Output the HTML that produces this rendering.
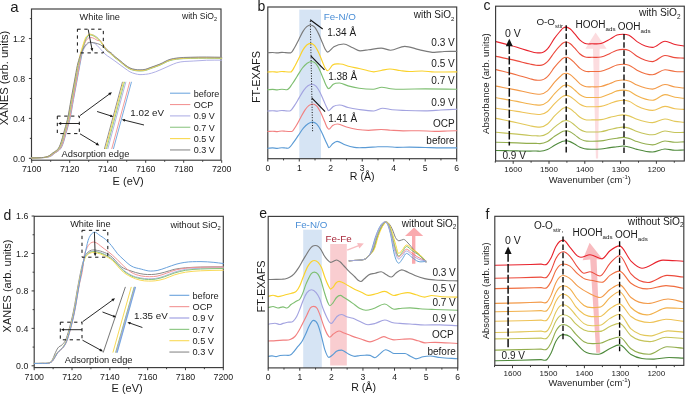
<!DOCTYPE html>
<html><head><meta charset="utf-8"><style>
html,body{margin:0;padding:0;background:#fff;}
svg{display:block;font-family:"Liberation Sans",sans-serif;will-change:transform;}
</style></head><body>
<svg width="685" height="394" viewBox="0 0 685 394">
<rect width="685" height="394" fill="#fff"/>
<rect x="31.5" y="9" width="189.5" height="151.2" fill="none" stroke="#3a3a3a" stroke-width="1.15"/>
<line x1="31.7" y1="160.2" x2="31.7" y2="162.8" stroke="#3a3a3a" stroke-width="1" />
<line x1="50.7" y1="160.2" x2="50.7" y2="161.8" stroke="#3a3a3a" stroke-width="1" />
<line x1="69.7" y1="160.2" x2="69.7" y2="162.8" stroke="#3a3a3a" stroke-width="1" />
<line x1="88.7" y1="160.2" x2="88.7" y2="161.8" stroke="#3a3a3a" stroke-width="1" />
<line x1="107.7" y1="160.2" x2="107.7" y2="162.8" stroke="#3a3a3a" stroke-width="1" />
<line x1="126.7" y1="160.2" x2="126.7" y2="161.8" stroke="#3a3a3a" stroke-width="1" />
<line x1="145.7" y1="160.2" x2="145.7" y2="162.8" stroke="#3a3a3a" stroke-width="1" />
<line x1="164.7" y1="160.2" x2="164.7" y2="161.8" stroke="#3a3a3a" stroke-width="1" />
<line x1="183.7" y1="160.2" x2="183.7" y2="162.8" stroke="#3a3a3a" stroke-width="1" />
<line x1="202.7" y1="160.2" x2="202.7" y2="161.8" stroke="#3a3a3a" stroke-width="1" />
<line x1="221.7" y1="160.2" x2="221.7" y2="162.8" stroke="#3a3a3a" stroke-width="1" />
<line x1="31.5" y1="158.3" x2="28.9" y2="158.3" stroke="#3a3a3a" stroke-width="1" />
<line x1="31.5" y1="138.35" x2="29.9" y2="138.35" stroke="#3a3a3a" stroke-width="1" />
<line x1="31.5" y1="118.4" x2="28.9" y2="118.4" stroke="#3a3a3a" stroke-width="1" />
<line x1="31.5" y1="98.45" x2="29.9" y2="98.45" stroke="#3a3a3a" stroke-width="1" />
<line x1="31.5" y1="78.5" x2="28.9" y2="78.5" stroke="#3a3a3a" stroke-width="1" />
<line x1="31.5" y1="58.55" x2="29.9" y2="58.55" stroke="#3a3a3a" stroke-width="1" />
<line x1="31.5" y1="38.6" x2="28.9" y2="38.6" stroke="#3a3a3a" stroke-width="1" />
<line x1="31.5" y1="18.65" x2="29.9" y2="18.65" stroke="#3a3a3a" stroke-width="1" />
<text x="31.7" y="172.3" font-size="8.8" text-anchor="middle" fill="#1a1a1a" >7100</text>
<text x="69.7" y="172.3" font-size="8.8" text-anchor="middle" fill="#1a1a1a" >7120</text>
<text x="107.7" y="172.3" font-size="8.8" text-anchor="middle" fill="#1a1a1a" >7140</text>
<text x="145.7" y="172.3" font-size="8.8" text-anchor="middle" fill="#1a1a1a" >7160</text>
<text x="183.7" y="172.3" font-size="8.8" text-anchor="middle" fill="#1a1a1a" >7180</text>
<text x="221.7" y="172.3" font-size="8.8" text-anchor="middle" fill="#1a1a1a" >7200</text>
<text x="25.2" y="161.5" font-size="8.8" text-anchor="end" fill="#1a1a1a" >0.0</text>
<text x="25.2" y="121.6" font-size="8.8" text-anchor="end" fill="#1a1a1a" >0.4</text>
<text x="25.2" y="81.7" font-size="8.8" text-anchor="end" fill="#1a1a1a" >0.8</text>
<text x="25.2" y="41.8" font-size="8.8" text-anchor="end" fill="#1a1a1a" >1.2</text>
<text x="128.2" y="185" font-size="11" text-anchor="middle" fill="#1a1a1a" >E (eV)</text>
<text x="0" y="0" font-size="11.2" text-anchor="middle" fill="#1a1a1a" transform="translate(8.4 78) rotate(-90)">XANES (arb. units)</text>
<text x="10.3" y="11.8" font-size="15" text-anchor="start" fill="#1a1a1a" >a</text>
<path d="M31.7 157.9C33.92 157.87 36.13 157.87 38.35 157.8C39.93 157.75 41.52 157.75 43.1 157.6C44.37 157.49 45.63 157.42 46.9 157.1C48.17 156.79 49.43 156.44 50.7 155.71C51.97 154.97 53.23 153.63 54.5 152.71C55.7 151.84 56.91 151.57 58.11 150.32C59 149.4 59.88 148.64 60.77 146.83C61.47 145.4 62.16 143.5 62.86 141.34C63.56 139.18 64.25 136.36 64.95 133.86C65.65 131.37 66.34 128.91 67.04 126.38C67.67 124.08 68.31 122.13 68.94 119.4C70.14 114.21 71.35 106.01 72.55 99.45C73.75 92.88 74.96 86.51 76.16 80C77.05 75.19 77.93 69.79 78.82 65.53C79.52 62.19 80.21 59.04 80.91 56.56C81.8 53.4 82.68 51.47 83.57 49.57C84.58 47.41 85.6 45.93 86.61 44.78C87.81 43.42 89.02 42.59 90.22 42.59C91.61 42.59 93.01 42.61 94.4 43.29C96.3 44.22 98.2 46.63 100.1 48.58C101.75 50.26 103.39 52.56 105.04 54.06C106.69 55.56 108.33 56.39 109.98 57.55C111.63 58.72 113.27 59.85 114.92 61.04C116.63 62.28 118.34 63.58 120.05 64.83C121.7 66.04 123.34 67.26 124.99 68.43C126.64 69.59 128.28 70.94 129.93 71.82C131.64 72.72 133.35 73.24 135.06 73.71C136.71 74.16 138.35 74.61 140 74.61C141.9 74.61 143.8 74.54 145.7 74.31C147.6 74.08 149.5 73.72 151.4 73.21C154.25 72.46 157.1 71.18 159.95 70.02C163.31 68.66 166.66 66.95 170.02 65.53C172.24 64.6 174.45 63.55 176.67 62.84C182.18 61.08 187.69 61.49 193.2 61.04C197.63 60.68 202.07 60.4 206.5 60.25C211.57 60.07 216.63 60.18 221.7 60.15" fill="none" stroke="#b0b0e6" stroke-width="1" stroke-linejoin="round" stroke-linecap="round" />
<path d="M31.7 157.9C34.23 157.87 36.77 157.88 39.3 157.8C40.88 157.75 42.47 157.75 44.05 157.6C45.32 157.49 46.58 157.42 47.85 157.1C49.12 156.79 50.38 156.44 51.65 155.71C52.92 154.97 54.18 153.63 55.45 152.71C56.65 151.84 57.86 151.57 59.06 150.32C59.95 149.4 60.83 148.64 61.72 146.83C62.42 145.4 63.11 143.5 63.81 141.34C64.51 139.18 65.2 136.35 65.9 133.86C66.6 131.37 67.29 128.91 67.99 126.38C68.62 124.08 69.26 122.13 69.89 119.4C71.09 114.21 72.3 106.01 73.5 99.45C74.7 92.88 75.91 86.51 77.11 80C78 75.19 78.88 70.15 79.77 65.53C81.16 58.28 82.56 50.27 83.95 45.28C84.77 42.34 85.6 39.95 86.42 38.3C87.05 37.03 87.69 36.34 88.32 35.71C89.08 34.94 89.84 34.41 90.6 34.41C91.87 34.41 93.13 34.94 94.4 35.61C95.67 36.27 96.93 37.2 98.2 38.4C98.83 39 99.47 39.66 100.1 40.4C101.75 42.3 103.39 45.47 105.04 47.48C106.69 49.49 108.33 50.89 109.98 52.47C111.63 54.04 113.27 55.56 114.92 56.95C116.63 58.4 118.34 59.55 120.05 60.94C121.7 62.28 123.34 63.9 124.99 65.13C126.64 66.36 128.28 67.55 129.93 68.33C131.64 69.13 133.35 69.51 135.06 69.82C136.71 70.13 138.35 70.22 140 70.22C141.9 70.22 143.8 70.1 145.7 69.62C147.16 69.25 148.61 68.56 150.07 68.03C153.36 66.83 156.66 65.8 159.95 64.44C163.31 63.05 166.66 60.76 170.02 59.75C172.24 59.08 174.45 58.78 176.67 58.45C181.23 57.76 185.79 57.82 190.35 57.65C195.73 57.45 201.12 57.45 206.5 57.45C211.57 57.45 216.63 57.59 221.7 57.65" fill="none" stroke="#72a8df" stroke-width="1" stroke-linejoin="round" stroke-linecap="round" />
<path d="M31.7 157.9C34.11 157.87 36.51 157.88 38.92 157.8C40.5 157.75 42.09 157.75 43.67 157.6C44.94 157.49 46.2 157.42 47.47 157.1C48.74 156.79 50 156.44 51.27 155.71C52.54 154.97 53.8 153.63 55.07 152.71C56.27 151.84 57.48 151.57 58.68 150.32C59.57 149.4 60.45 148.64 61.34 146.83C62.04 145.4 62.73 143.5 63.43 141.34C64.13 139.18 64.82 136.35 65.52 133.86C66.22 131.37 66.91 128.91 67.61 126.38C68.24 124.08 68.88 122.13 69.51 119.4C70.71 114.21 71.92 106.01 73.12 99.45C74.32 92.88 75.53 86.51 76.73 80C77.62 75.19 78.5 70.5 79.39 65.53C80.09 61.63 80.78 56.83 81.48 53.56C82.37 49.4 83.25 46.91 84.14 44.59C84.9 42.6 85.66 41.19 86.42 40.1C87.12 39.09 87.81 38.55 88.51 38.1C89.21 37.65 89.9 37.4 90.6 37.4C91.99 37.4 93.39 38.13 94.78 38.8C95.79 39.29 96.81 40.31 97.82 40.6C98.58 40.81 99.34 40.33 100.1 40.69C101.75 41.49 103.39 45.77 105.04 47.78C106.69 49.79 108.33 51.19 109.98 52.76C111.63 54.34 113.27 55.86 114.92 57.25C116.63 58.7 118.34 59.85 120.05 61.24C121.7 62.58 123.34 64.2 124.99 65.43C126.64 66.66 128.28 67.85 129.93 68.62C131.64 69.43 133.35 69.81 135.06 70.12C136.71 70.42 138.35 70.52 140 70.52C141.9 70.52 143.8 70.4 145.7 69.92C147.16 69.55 148.61 68.86 150.07 68.33C153.36 67.12 156.66 66.1 159.95 64.73C163.31 63.34 166.66 61.06 170.02 60.05C172.24 59.38 174.45 59.08 176.67 58.75C181.23 58.06 185.79 58.12 190.35 57.95C195.73 57.75 201.12 57.75 206.5 57.75C211.57 57.75 216.63 57.89 221.7 57.95" fill="none" stroke="#f39696" stroke-width="1" stroke-linejoin="round" stroke-linecap="round" />
<path d="M31.7 157.9C33.73 157.87 35.75 157.86 37.78 157.8C39.36 157.75 40.95 157.75 42.53 157.6C43.8 157.49 45.06 157.42 46.33 157.1C47.6 156.79 48.86 156.44 50.13 155.71C51.4 154.97 52.66 153.63 53.93 152.71C55.13 151.84 56.34 151.57 57.54 150.32C58.43 149.4 59.31 148.64 60.2 146.83C60.9 145.4 61.59 143.5 62.29 141.34C62.99 139.18 63.68 136.36 64.38 133.86C65.08 131.37 65.77 128.91 66.47 126.38C67.1 124.08 67.74 122.13 68.37 119.4C69.57 114.21 70.78 106.01 71.98 99.45C73.18 92.88 74.39 86.51 75.59 80C76.48 75.19 77.36 69.87 78.25 65.53C79.96 57.16 81.67 51.18 83.38 45.78C84.2 43.18 85.03 40.45 85.85 38.8C86.48 37.53 87.12 36.84 87.75 36.21C88.51 35.44 89.27 34.91 90.03 34.91C91.3 34.91 92.56 35.44 93.83 36.11C95.1 36.77 96.36 37.82 97.63 38.9C98.45 39.6 99.28 40.29 100.1 41.19C101.75 43 103.39 46.26 105.04 48.28C106.69 50.29 108.33 51.68 109.98 53.26C111.63 54.84 113.27 56.36 114.92 57.75C116.63 59.2 118.34 60.35 120.05 61.74C121.7 63.08 123.34 64.7 124.99 65.93C126.64 67.16 128.28 68.35 129.93 69.12C131.64 69.93 133.35 70.3 135.06 70.62C136.71 70.92 138.35 71.02 140 71.02C141.9 71.02 143.8 70.9 145.7 70.42C147.16 70.05 148.61 69.36 150.07 68.82C153.36 67.62 156.66 66.6 159.95 65.23C163.31 63.84 166.66 61.56 170.02 60.55C172.24 59.87 174.45 59.58 176.67 59.25C181.23 58.56 185.79 58.62 190.35 58.45C195.73 58.25 201.12 58.25 206.5 58.25C211.57 58.25 216.63 58.38 221.7 58.45" fill="none" stroke="#8fc785" stroke-width="1" stroke-linejoin="round" stroke-linecap="round" />
<path d="M31.7 157.9C33.54 157.87 35.37 157.86 37.21 157.8C38.79 157.75 40.38 157.75 41.96 157.6C43.23 157.49 44.49 157.42 45.76 157.1C47.03 156.79 48.29 156.44 49.56 155.71C50.83 154.97 52.09 153.63 53.36 152.71C54.56 151.84 55.77 151.57 56.97 150.32C57.86 149.4 58.74 148.64 59.63 146.83C60.33 145.4 61.02 143.5 61.72 141.34C62.42 139.18 63.11 136.36 63.81 133.86C64.51 131.37 65.2 128.91 65.9 126.38C66.53 124.08 67.17 122.13 67.8 119.4C69 114.21 70.21 106.01 71.41 99.45C72.61 92.88 73.82 86.51 75.02 80C75.91 75.19 76.79 69.89 77.68 65.53C79.45 56.82 81.23 50.58 83 44.98C83.82 42.39 84.65 39.65 85.47 38C86.1 36.73 86.74 36.04 87.37 35.41C88.13 34.65 88.89 34.11 89.65 34.11C90.92 34.11 92.18 34.64 93.45 35.31C94.72 35.97 95.98 37.04 97.25 38.1C98.2 38.89 99.15 39.65 100.1 40.69C101.75 42.51 103.39 45.77 105.04 47.78C106.69 49.79 108.33 51.19 109.98 52.76C111.63 54.34 113.27 55.86 114.92 57.25C116.63 58.7 118.34 59.85 120.05 61.24C121.7 62.58 123.34 64.2 124.99 65.43C126.64 66.66 128.28 67.85 129.93 68.62C131.64 69.43 133.35 69.81 135.06 70.12C136.71 70.42 138.35 70.52 140 70.52C141.9 70.52 143.8 70.4 145.7 69.92C147.16 69.55 148.61 68.86 150.07 68.33C153.36 67.12 156.66 66.1 159.95 64.73C163.31 63.34 166.66 61.06 170.02 60.05C172.24 59.38 174.45 59.08 176.67 58.75C181.23 58.06 185.79 58.12 190.35 57.95C195.73 57.75 201.12 57.75 206.5 57.75C211.57 57.75 216.63 57.89 221.7 57.95" fill="none" stroke="#f9d94e" stroke-width="1" stroke-linejoin="round" stroke-linecap="round" />
<path d="M31.7 157.9C33.41 157.87 35.12 157.85 36.83 157.8C38.41 157.75 40 157.75 41.58 157.6C42.85 157.49 44.11 157.42 45.38 157.1C46.65 156.79 47.91 156.44 49.18 155.71C50.45 154.97 51.71 153.63 52.98 152.71C54.18 151.84 55.39 151.57 56.59 150.32C57.48 149.4 58.36 148.64 59.25 146.83C59.95 145.4 60.64 143.5 61.34 141.34C62.04 139.18 62.73 136.36 63.43 133.86C64.13 131.37 64.82 128.91 65.52 126.38C66.15 124.08 66.79 122.13 67.42 119.4C68.62 114.21 69.83 106.01 71.03 99.45C72.23 92.88 73.44 86.51 74.64 80C75.53 75.19 76.41 69.44 77.3 65.53C78.19 61.63 79.07 59.15 79.96 56.56C80.91 53.77 81.86 51.5 82.81 49.57C83.82 47.52 84.84 45.98 85.85 44.78C86.99 43.44 88.13 42.29 89.27 42.29C90.66 42.29 92.06 42.35 93.45 42.59C94.72 42.81 95.98 43.18 97.25 43.59C98.33 43.93 99.4 44.18 100.48 44.78C101.62 45.42 102.76 46.33 103.9 47.38C105.17 48.55 106.43 50.87 107.7 51.57C108.46 51.99 109.22 51.73 109.98 52.07C111.63 52.79 113.27 55.16 114.92 56.56C116.63 58 118.34 59.15 120.05 60.55C121.7 61.88 123.34 63.5 124.99 64.73C126.64 65.96 128.28 67.15 129.93 67.93C131.64 68.73 133.35 69.11 135.06 69.42C136.71 69.73 138.35 69.82 140 69.82C141.9 69.82 143.8 69.7 145.7 69.22C147.16 68.86 148.61 68.16 150.07 67.63C153.36 66.43 156.66 65.4 159.95 64.04C163.31 62.65 166.66 60.36 170.02 59.35C172.24 58.68 174.45 58.38 176.67 58.05C181.23 57.37 185.79 57.42 190.35 57.25C195.73 57.05 201.12 57.05 206.5 57.05C211.57 57.05 216.63 57.19 221.7 57.25" fill="none" stroke="#8a8a8a" stroke-width="1" stroke-linejoin="round" stroke-linecap="round" />
<text x="79.6" y="20.2" font-size="9.2" text-anchor="start" fill="#1a1a1a" >White line</text>
<text x="182" y="19.3" font-size="8.6" fill="#1a1a1a">with SiO<tspan font-size="5.6" dy="2">2</tspan></text>
<rect x="77.4" y="29.2" width="25.9" height="23.7" fill="none" stroke="#111" stroke-width="1" stroke-dasharray="3.3 3.6"/>
<line x1="88.2" y1="29.4" x2="91.9" y2="48.85" stroke="#111" stroke-width="0.9" />
<polygon points="92.4,51.5 90.43,48.62 93.18,48.09" fill="#111"/>
<rect x="57.3" y="116.1" width="22" height="17.5" fill="none" stroke="#111" stroke-width="1" stroke-dasharray="3.3 3.6"/>
<line x1="79.3" y1="123.5" x2="60.7" y2="123.5" stroke="#111" stroke-width="0.9" />
<polygon points="58.2,123.5 61.2,122.1 61.2,124.9" fill="#111"/>
<line x1="80" y1="115.6" x2="109.56" y2="93.92" stroke="#111" stroke-width="0.9" />
<polygon points="111.9,92.2 110.05,95.42 108.27,93" fill="#111"/>
<line x1="80" y1="133.8" x2="96.81" y2="143.91" stroke="#111" stroke-width="0.9" />
<polygon points="99.3,145.4 95.61,144.93 97.16,142.36" fill="#111"/>
<line x1="104.4" y1="149" x2="122.5" y2="81.8" stroke="#8a8a8a" stroke-width="0.95" />
<line x1="105.4" y1="149" x2="123.5" y2="81.8" stroke="#f9d94e" stroke-width="0.95" />
<line x1="106.5" y1="149" x2="124.6" y2="81.8" stroke="#8fc785" stroke-width="0.95" />
<line x1="107.8" y1="149" x2="125.9" y2="81.8" stroke="#b0b0e6" stroke-width="0.95" />
<line x1="111.7" y1="149" x2="129.8" y2="81.8" stroke="#f39696" stroke-width="0.95" />
<line x1="113.4" y1="149" x2="131.5" y2="81.8" stroke="#72a8df" stroke-width="0.95" />
<line x1="97.1" y1="111.5" x2="110.83" y2="115.88" stroke="#111" stroke-width="0.9" />
<polygon points="113.4,116.7 109.93,117.06 110.78,114.39" fill="#111"/>
<line x1="144" y1="125" x2="124.42" y2="120.15" stroke="#111" stroke-width="0.9" />
<polygon points="121.8,119.5 125.24,118.91 124.57,121.63" fill="#111"/>
<text x="130.3" y="115.6" font-size="9.8" text-anchor="start" fill="#1a1a1a" >1.02 eV</text>
<text x="61.6" y="156.7" font-size="9.3" text-anchor="start" fill="#1a1a1a" >Adsorption edge</text>
<line x1="170" y1="93.2" x2="190.3" y2="93.2" stroke="#72a8df" stroke-width="1.1" />
<text x="193.7" y="96.5" font-size="9" text-anchor="start" fill="#1a1a1a" >before</text>
<line x1="170" y1="104.55" x2="190.3" y2="104.55" stroke="#f39696" stroke-width="1.1" />
<text x="193.7" y="107.85" font-size="9" text-anchor="start" fill="#1a1a1a" >OCP</text>
<line x1="170" y1="115.9" x2="190.3" y2="115.9" stroke="#b0b0e6" stroke-width="1.1" />
<text x="193.7" y="119.2" font-size="9" text-anchor="start" fill="#1a1a1a" >0.9 V</text>
<line x1="170" y1="127.25" x2="190.3" y2="127.25" stroke="#8fc785" stroke-width="1.1" />
<text x="193.7" y="130.55" font-size="9" text-anchor="start" fill="#1a1a1a" >0.7 V</text>
<line x1="170" y1="138.6" x2="190.3" y2="138.6" stroke="#f9d94e" stroke-width="1.1" />
<text x="193.7" y="141.9" font-size="9" text-anchor="start" fill="#1a1a1a" >0.5 V</text>
<line x1="170" y1="149.95" x2="190.3" y2="149.95" stroke="#8a8a8a" stroke-width="1.1" />
<text x="193.7" y="153.25" font-size="9" text-anchor="start" fill="#1a1a1a" >0.3 V</text>
<rect x="299.28" y="9.6" width="21.72" height="149.1" fill="#d6e4f4"/>
<rect x="267.8" y="7" width="188.9" height="151.7" fill="none" stroke="#3a3a3a" stroke-width="1.15"/>
<line x1="267.8" y1="158.7" x2="267.8" y2="161.5" stroke="#3a3a3a" stroke-width="1" />
<line x1="283.54" y1="158.7" x2="283.54" y2="160.4" stroke="#3a3a3a" stroke-width="1" />
<line x1="299.28" y1="158.7" x2="299.28" y2="161.5" stroke="#3a3a3a" stroke-width="1" />
<line x1="315.02" y1="158.7" x2="315.02" y2="160.4" stroke="#3a3a3a" stroke-width="1" />
<line x1="330.76" y1="158.7" x2="330.76" y2="161.5" stroke="#3a3a3a" stroke-width="1" />
<line x1="346.5" y1="158.7" x2="346.5" y2="160.4" stroke="#3a3a3a" stroke-width="1" />
<line x1="362.24" y1="158.7" x2="362.24" y2="161.5" stroke="#3a3a3a" stroke-width="1" />
<line x1="377.98" y1="158.7" x2="377.98" y2="160.4" stroke="#3a3a3a" stroke-width="1" />
<line x1="393.72" y1="158.7" x2="393.72" y2="161.5" stroke="#3a3a3a" stroke-width="1" />
<line x1="409.46" y1="158.7" x2="409.46" y2="160.4" stroke="#3a3a3a" stroke-width="1" />
<line x1="425.2" y1="158.7" x2="425.2" y2="161.5" stroke="#3a3a3a" stroke-width="1" />
<line x1="440.94" y1="158.7" x2="440.94" y2="160.4" stroke="#3a3a3a" stroke-width="1" />
<line x1="456.68" y1="158.7" x2="456.68" y2="161.5" stroke="#3a3a3a" stroke-width="1" />
<text x="267.8" y="170.9" font-size="8.6" text-anchor="middle" fill="#1a1a1a" >0</text>
<text x="299.28" y="170.9" font-size="8.6" text-anchor="middle" fill="#1a1a1a" >1</text>
<text x="330.76" y="170.9" font-size="8.6" text-anchor="middle" fill="#1a1a1a" >2</text>
<text x="362.24" y="170.9" font-size="8.6" text-anchor="middle" fill="#1a1a1a" >3</text>
<text x="393.72" y="170.9" font-size="8.6" text-anchor="middle" fill="#1a1a1a" >4</text>
<text x="425.2" y="170.9" font-size="8.6" text-anchor="middle" fill="#1a1a1a" >5</text>
<text x="456.68" y="170.9" font-size="8.6" text-anchor="middle" fill="#1a1a1a" >6</text>
<text x="362.2" y="180" font-size="10.6" text-anchor="middle" fill="#1a1a1a" >R (&#197;)</text>
<text x="0" y="0" font-size="10.9" text-anchor="middle" fill="#1a1a1a" transform="translate(260.2 77.1) rotate(-90)">FT-EXAFS</text>
<text x="257.4" y="10.7" font-size="14" text-anchor="start" fill="#1a1a1a" >b</text>
<path d="M267.8 148.2C269.37 148.1 270.95 147.9 272.52 147.9C274.1 147.9 275.67 148.3 277.24 148.3C278.82 148.3 280.39 147.7 281.97 147.7C283.12 147.7 284.27 147.9 285.43 148C286.27 148.07 287.11 148.2 287.95 148.2C289.73 148.2 291.51 144.94 293.3 142.72C294.98 140.63 296.66 137.85 298.34 135.41C300.01 132.97 301.69 130.1 303.37 128.1C304.95 126.23 306.52 124.67 308.09 123.67C309.56 122.73 311.03 122.1 312.5 122.1C313.87 122.1 315.23 122.58 316.59 123.93C317.96 125.28 319.32 127.65 320.69 130.19C322 132.64 323.31 135.97 324.62 138.8C325.51 140.73 326.41 142.71 327.3 144.55C327.82 145.62 328.35 147.7 328.87 147.7C330.13 147.7 331.39 144.73 332.65 143.7C334.12 142.49 335.59 141.3 337.06 141.3C339.68 141.3 342.3 143.74 344.93 144.7C348.07 145.85 351.22 146.89 354.37 147.4C358.04 148 361.72 147.6 365.39 147.6C369.59 147.6 373.78 146.94 377.98 146.8C381.13 146.7 384.28 146.7 387.42 146.7C390.57 146.7 393.72 147.4 396.87 147.4C401.07 147.4 405.26 147.1 409.46 147.1C414.71 147.1 419.95 147.37 425.2 147.5C430.45 147.63 435.69 147.9 440.94 147.9C446.19 147.9 451.43 147.9 456.68 147.9" fill="none" stroke="#5b9bd5" stroke-width="1.15" stroke-linejoin="round" stroke-linecap="round" />
<path d="M267.8 131.5C269.37 131.4 270.95 131.2 272.52 131.2C274.1 131.2 275.67 131.6 277.24 131.6C278.82 131.6 280.39 131 281.97 131C283.12 131 284.27 131.22 285.43 131.3C287.5 131.44 289.56 131.5 291.63 131.5C293.15 131.5 294.66 128.06 296.18 125.72C297.61 123.52 299.03 120.59 300.46 118.03C301.89 115.46 303.31 112.42 304.74 110.33C306.08 108.36 307.42 106.71 308.76 105.65C310 104.66 311.25 104 312.5 104C313.87 104 315.23 104.5 316.59 105.92C317.96 107.35 319.32 109.84 320.69 112.53C322 115.1 323.31 118.61 324.62 121.6C325.51 123.63 326.41 126.35 327.3 127.65C327.82 128.41 328.35 129.2 328.87 129.2C330.13 129.2 331.39 126.37 332.65 125.5C334.33 124.35 336.01 124 337.69 124C340.62 124 343.56 126.15 346.5 127C350.17 128.06 353.85 128.95 357.52 129.5C361.19 130.05 364.86 130.3 368.54 130.3C372.73 130.3 376.93 129.5 381.13 129.5C384.28 129.5 387.42 129.99 390.57 130.2C394.77 130.48 398.97 130.9 403.16 130.9C408.41 130.9 413.66 130.7 418.9 130.7C424.15 130.7 429.4 131.3 434.64 131.3C438.84 131.3 443.04 131.12 447.24 131C450.38 130.91 453.53 130.8 456.68 130.7" fill="none" stroke="#f28080" stroke-width="1.15" stroke-linejoin="round" stroke-linecap="round" />
<path d="M267.8 111C269.37 110.9 270.95 110.7 272.52 110.7C274.1 110.7 275.67 111.1 277.24 111.1C278.82 111.1 280.39 110.5 281.97 110.5C283.12 110.5 284.27 110.72 285.43 110.8C286.88 110.9 288.32 111 289.77 111C291.38 111 292.98 107.65 294.59 105.37C296.1 103.23 297.61 100.37 299.12 97.87C300.63 95.37 302.14 92.41 303.66 90.36C305.07 88.45 306.49 86.84 307.91 85.81C309.23 84.85 310.55 84.2 311.87 84.2C313.24 84.2 314.6 84.69 315.96 86.08C317.33 87.46 318.69 89.89 320.06 92.51C321.37 95.02 322.68 98.44 323.99 101.35C324.88 103.33 325.78 105.48 326.67 107.25C327.3 108.5 327.93 110.7 328.56 110.7C330.13 110.7 331.7 107.46 333.28 106.5C335.38 105.22 337.48 105 339.57 105C342.41 105 345.24 106.81 348.07 107.5C351.75 108.4 355.42 108.96 359.09 109.5C364.02 110.23 368.96 111 373.89 111C376.83 111 379.76 108.2 382.7 108.2C385.85 108.2 389 109.42 392.15 109.8C396.87 110.37 401.59 110.33 406.31 110.5C412.61 110.72 418.9 110.8 425.2 110.8C430.45 110.8 435.69 110.27 440.94 110C446.19 109.73 451.43 109.47 456.68 109.2" fill="none" stroke="#a3a3e0" stroke-width="1.15" stroke-linejoin="round" stroke-linecap="round" />
<path d="M267.8 89.7C269.37 89.6 270.95 89.4 272.52 89.4C274.1 89.4 275.67 89.8 277.24 89.8C278.82 89.8 280.39 89.2 281.97 89.2C283.64 89.2 285.32 89.7 287 89.7C288.79 89.7 290.57 86.18 292.35 83.78C294.03 81.52 295.71 78.51 297.39 75.88C299.07 73.25 300.75 70.14 302.43 67.99C304 65.97 305.58 64.28 307.15 63.19C308.62 62.18 310.09 61.5 311.56 61.5C312.92 61.5 314.29 62.02 315.65 63.47C317.01 64.93 318.38 67.49 319.74 70.24C321.05 72.89 322.37 76.48 323.68 79.55C324.57 81.63 325.46 84.19 326.35 85.75C327.09 87.04 327.82 88.6 328.56 88.6C330.13 88.6 331.7 85.17 333.28 84.2C335.38 82.91 337.48 83 339.57 83C342.41 83 345.24 85.1 348.07 85.9C351.75 86.94 355.42 87.66 359.09 88.2C363.81 88.9 368.54 89.2 373.26 89.2C376.09 89.2 378.92 87.2 381.76 87.2C384.7 87.2 387.63 88.36 390.57 88.7C394.77 89.19 398.97 89.2 403.16 89.2C410.51 89.2 417.85 88.9 425.2 88.9C435.69 88.9 446.19 89.1 456.68 89.2" fill="none" stroke="#7fbf72" stroke-width="1.15" stroke-linejoin="round" stroke-linecap="round" />
<path d="M267.8 72C269.37 71.9 270.95 71.7 272.52 71.7C274.1 71.7 275.67 72.1 277.24 72.1C278.82 72.1 280.39 71.5 281.97 71.5C283.12 71.5 284.27 71.72 285.43 71.8C287.17 71.92 288.91 72 290.65 72C292.08 72 293.51 68.41 294.94 65.97C296.28 63.68 297.62 60.62 298.97 57.94C300.31 55.26 301.65 52.09 302.99 49.9C304.25 47.85 305.51 46.13 306.77 45.02C307.95 43.99 309.12 43.3 310.3 43.3C311.66 43.3 313.03 43.83 314.39 45.31C315.75 46.79 317.12 49.4 318.48 52.2C319.79 54.89 321.11 58.55 322.42 61.67C323.31 63.79 324.2 66.47 325.09 67.98C325.93 69.41 326.77 70.7 327.61 70.7C329.29 70.7 330.97 66.23 332.65 65C335.17 63.16 337.69 64 340.2 64C343.35 64 346.5 65.75 349.65 66.5C352.8 67.25 355.94 67.78 359.09 68.5C361.19 68.98 363.29 69.52 365.39 70C368.22 70.64 371.05 71.8 373.89 71.8C376.3 71.8 378.71 70.92 381.13 70.5C384.07 69.98 387 69 389.94 69C393.3 69 396.66 70.07 400.02 70.5C403.16 70.9 406.31 71.5 409.46 71.5C413.66 71.5 417.85 71 422.05 71C426.25 71 430.45 72 434.64 72C441.99 72 449.33 71.93 456.68 71.9" fill="none" stroke="#fad22c" stroke-width="1.15" stroke-linejoin="round" stroke-linecap="round" />
<path d="M267.8 52.8C269.37 52.7 270.95 52.5 272.52 52.5C274.1 52.5 275.67 52.9 277.24 52.9C278.82 52.9 280.39 52.3 281.97 52.3C283.12 52.3 284.27 52.52 285.43 52.6C287.17 52.72 288.91 52.8 290.65 52.8C292.08 52.8 293.51 49.33 294.94 46.96C296.28 44.74 297.62 41.77 298.97 39.18C300.31 36.58 301.65 33.52 302.99 31.39C304.25 29.4 305.51 27.74 306.77 26.67C307.95 25.67 309.12 25 310.3 25C311.66 25 313.03 25.51 314.39 26.95C315.75 28.38 317.12 30.91 318.48 33.62C319.79 36.23 321.11 39.77 322.42 42.79C323.31 44.85 324.2 47.34 325.09 48.91C325.93 50.39 326.77 52.1 327.61 52.1C329.71 52.1 331.81 48.11 333.91 46.8C337.16 44.77 340.41 44 343.67 44C346.71 44 349.75 46.54 352.8 47.8C355.21 48.8 357.62 50.8 360.04 50.8C362.87 50.8 365.7 50.15 368.54 49.8C372.73 49.28 376.93 48.1 381.13 48.1C384.28 48.1 387.42 50.2 390.57 50.2C395.29 50.2 400.02 46.3 404.74 46.3C409.46 46.3 414.18 48.62 418.9 49.6C424.05 50.67 429.19 52.4 434.33 52.4C437.58 52.4 440.84 51.68 444.09 51.5C448.29 51.27 452.48 51.43 456.68 51.4" fill="none" stroke="#7a7a7a" stroke-width="1.15" stroke-linejoin="round" stroke-linecap="round" />
<line x1="310.3" y1="21" x2="312.6" y2="131.5" stroke="#111" stroke-width="1" stroke-dasharray="1 1.6"/>
<line x1="310.2" y1="19.8" x2="322.7" y2="29" stroke="#111" stroke-width="1.15" />
<line x1="310.8" y1="55.9" x2="324.5" y2="69.9" stroke="#111" stroke-width="1.15" />
<line x1="311.7" y1="97.9" x2="325.1" y2="111.6" stroke="#111" stroke-width="1.15" />
<text x="323.7" y="20.1" font-size="9.8" text-anchor="start" fill="#4a8ed6" >Fe-N/O</text>
<text x="327.2" y="36.3" font-size="10" text-anchor="start" fill="#1a1a1a" >1.34 &#197;</text>
<text x="328.2" y="80.3" font-size="10" text-anchor="start" fill="#1a1a1a" >1.38 &#197;</text>
<text x="328.2" y="122.4" font-size="10" text-anchor="start" fill="#1a1a1a" >1.41 &#197;</text>
<text x="413.8" y="18.2" font-size="10" fill="#1a1a1a">with SiO<tspan font-size="6" dy="2.9">2</tspan></text>
<text x="454.7" y="45.9" font-size="10" text-anchor="end" fill="#1a1a1a" >0.3 V</text>
<text x="454.7" y="66.9" font-size="10" text-anchor="end" fill="#1a1a1a" >0.5 V</text>
<text x="454.7" y="84.4" font-size="10" text-anchor="end" fill="#1a1a1a" >0.7 V</text>
<text x="454.7" y="105.6" font-size="10" text-anchor="end" fill="#1a1a1a" >0.9 V</text>
<text x="454.7" y="126.9" font-size="10" text-anchor="end" fill="#1a1a1a" >OCP</text>
<text x="454.7" y="144.3" font-size="10" text-anchor="end" fill="#1a1a1a" >before</text>
<polygon points="595.6,32.6 606.6,48.8 599.6,48.8 598.1,158.4 595.9,158.4 593,48.8 585.4,48.8" fill="#fcdcdf"/>
<path d="M496.1 41.6C503.07 43.48 510.03 45.22 517 47.25C521.33 48.51 525.67 50.05 530 51.2C532 51.74 534 52.44 536 52.7C537.33 52.87 538.67 52.9 540 52.9C542.5 52.9 545 51.35 547.5 48.77C549.87 46.33 552.23 41.42 554.6 38.19C556.37 35.79 558.13 33.52 559.9 31.49C560.93 30.3 561.97 28.86 563 28.13C564.1 27.35 565.2 27.1 566.3 27.1C567.53 27.1 568.77 27.86 570 28.74C571.67 29.93 573.33 32.24 575 34.15C576.67 36.07 578.33 38.66 580 40.22C581.5 41.62 583 42.62 584.5 43.3C587 44.43 589.5 43.8 592 43.8C595 43.8 598 44.28 601 43.5C604 42.72 607 40.76 610 39.13C612.33 37.86 614.67 35.8 617 35C619 34.31 621 34.2 623 34.2C625 34.2 627 34.32 629 35.2C631.67 36.37 634.33 39.85 637 41.59C642.17 44.97 647.33 47.4 652.5 47.4C656.67 47.4 660.83 41.3 665 41.3C668.33 41.3 671.67 43.65 675 44.45C677.93 45.16 680.87 45.48 683.8 46" fill="none" stroke="#e8222c" stroke-width="1.1" stroke-linejoin="round" stroke-linecap="round" />
<path d="M496.1 56.4C503.07 57.9 510.03 59.28 517 60.9C521.33 61.91 525.67 63.15 530 64.05C532 64.47 534 64.99 536 65.2C537.33 65.34 538.67 65.4 540 65.4C542.5 65.4 545 64 547.5 61.66C549.87 59.44 552.23 54.98 554.6 52.06C556.37 49.88 558.13 47.82 559.9 45.98C560.93 44.9 561.97 43.6 563 42.94C564.1 42.23 565.2 42 566.3 42C567.53 42 568.77 42.69 570 43.5C571.67 44.59 573.33 46.7 575 48.45C576.67 50.2 578.33 52.58 580 54C581.5 55.28 583 56.18 584.5 56.8C587 57.83 589.5 57.3 592 57.3C595 57.3 598 57.65 601 57C604 56.35 607 54.73 610 53.43C612.33 52.42 614.67 50.86 617 50.2C619 49.63 621 49.4 623 49.4C625 49.4 627 49.58 629 50.4C631.67 51.49 634.33 54.64 637 56.23C642.17 59.33 647.33 61.6 652.5 61.6C656.67 61.6 660.83 55.5 665 55.5C668.33 55.5 671.67 57.17 675 57.6C677.93 57.98 680.87 57.93 683.8 58.1" fill="none" stroke="#ec4a3c" stroke-width="1.1" stroke-linejoin="round" stroke-linecap="round" />
<path d="M496.1 69.6C503.07 71.38 510.03 73.03 517 74.95C521.33 76.14 525.67 77.61 530 78.69C532 79.2 534 79.85 536 80.1C537.33 80.26 538.67 80.3 540 80.3C542.5 80.3 545 78.92 547.5 76.62C549.87 74.44 552.23 70.06 554.6 67.19C556.37 65.05 558.13 63.02 559.9 61.21C560.93 60.15 561.97 58.87 563 58.22C564.1 57.52 565.2 57.3 566.3 57.3C567.53 57.3 568.77 57.94 570 58.69C571.67 59.7 573.33 61.66 575 63.28C576.67 64.9 578.33 67.11 580 68.42C581.5 69.6 583 70.42 584.5 71C587 71.96 589.5 71.5 592 71.5C595 71.5 598 71.8 601 71.2C604 70.6 607 69.09 610 67.91C612.33 66.99 614.67 65.62 617 65C619 64.47 621 64.2 623 64.2C625 64.2 627 64.48 629 65.2C631.67 66.16 634.33 68.78 637 70.14C642.17 72.77 647.33 74.8 652.5 74.8C656.67 74.8 660.83 69.7 665 69.7C668.33 69.7 671.67 71.18 675 71.5C677.93 71.78 680.87 71.63 683.8 71.7" fill="none" stroke="#f06e40" stroke-width="1.1" stroke-linejoin="round" stroke-linecap="round" />
<path d="M496.1 86.1C503.07 87.45 510.03 88.7 517 90.15C521.33 91.05 525.67 92.19 530 92.98C532 93.35 534 93.8 536 94C537.33 94.13 538.67 94.2 540 94.2C542.5 94.2 545 92.94 547.5 90.84C549.87 88.85 552.23 84.85 554.6 82.23C556.37 80.27 558.13 78.42 559.9 76.77C560.93 75.8 561.97 74.64 563 74.04C564.1 73.4 565.2 73.2 566.3 73.2C567.53 73.2 568.77 73.81 570 74.53C571.67 75.5 573.33 77.37 575 78.92C576.67 80.47 578.33 82.58 580 83.84C581.5 84.97 583 85.75 584.5 86.3C587 87.22 589.5 86.8 592 86.8C595 86.8 598 87.06 601 86.5C604 85.94 607 84.53 610 83.44C612.33 82.6 614.67 81.37 617 80.8C619 80.31 621 80 623 80C625 80 627 80.37 629 81C631.67 81.84 634.33 83.96 637 85.1C642.17 87.3 647.33 89.1 652.5 89.1C656.67 89.1 660.83 84.5 665 84.5C668.33 84.5 671.67 86.46 675 87.05C677.93 87.57 680.87 87.68 683.8 88" fill="none" stroke="#f39a48" stroke-width="1.1" stroke-linejoin="round" stroke-linecap="round" />
<path d="M496.1 97.7C503.07 98.93 510.03 100.07 517 101.4C521.33 102.23 525.67 103.27 530 103.99C532 104.32 534 104.72 536 104.9C537.33 105.02 538.67 105.1 540 105.1C542.5 105.1 545 103.9 547.5 101.88C549.87 99.98 552.23 96.15 554.6 93.64C556.37 91.77 558.13 90 559.9 88.42C560.93 87.49 561.97 86.38 563 85.8C564.1 85.2 565.2 85 566.3 85C567.53 85 568.77 85.56 570 86.22C571.67 87.11 573.33 88.82 575 90.25C576.67 91.67 578.33 93.61 580 94.76C581.5 95.79 583 96.5 584.5 97C587 97.84 589.5 97.5 592 97.5C595 97.5 598 97.81 601 97.2C604 96.59 607 95.06 610 93.86C612.33 92.93 614.67 91.52 617 90.9C619 90.37 621 90.1 623 90.1C625 90.1 627 90.4 629 91.1C631.67 92.03 634.33 94.51 637 95.81C642.17 98.33 647.33 100.3 652.5 100.3C656.67 100.3 660.83 94.6 665 94.6C668.33 94.6 671.67 96.62 675 97.25C677.93 97.8 680.87 97.95 683.8 98.3" fill="none" stroke="#f2b14c" stroke-width="1.1" stroke-linejoin="round" stroke-linecap="round" />
<path d="M496.1 108.2C503.07 109.25 510.03 110.22 517 111.35C521.33 112.05 525.67 112.95 530 113.56C532 113.83 534 114.14 536 114.3C537.33 114.41 538.67 114.5 540 114.5C542.5 114.5 545 113.36 547.5 111.44C549.87 109.63 552.23 106 554.6 103.61C556.37 101.83 558.13 100.15 559.9 98.65C560.93 97.77 561.97 96.71 563 96.16C564.1 95.59 565.2 95.4 566.3 95.4C567.53 95.4 568.77 95.91 570 96.5C571.67 97.3 573.33 98.85 575 100.13C576.67 101.41 578.33 103.17 580 104.2C581.5 105.13 583 105.75 584.5 106.2C587 106.96 589.5 106.7 592 106.7C595 106.7 598 106.93 601 106.4C604 105.87 607 104.54 610 103.53C612.33 102.75 614.67 101.64 617 101.1C619 100.64 621 100.3 623 100.3C625 100.3 627 100.61 629 101.3C631.67 102.22 634.33 104.67 637 105.96C642.17 108.44 647.33 110.4 652.5 110.4C656.67 110.4 660.83 106.4 665 106.4C668.33 106.4 671.67 108.2 675 108.7C677.93 109.14 680.87 109.17 683.8 109.4" fill="none" stroke="#eec256" stroke-width="1.1" stroke-linejoin="round" stroke-linecap="round" />
<path d="M496.1 118.4C503.07 119.85 510.03 121.19 517 122.75C521.33 123.72 525.67 124.93 530 125.8C532 126.19 534 126.69 536 126.9C537.33 127.04 538.67 127.1 540 127.1C542.5 127.1 545 125.93 547.5 123.96C549.87 122.11 552.23 118.38 554.6 115.93C556.37 114.1 558.13 112.38 559.9 110.83C560.93 109.93 561.97 108.84 563 108.28C564.1 107.69 565.2 107.5 566.3 107.5C567.53 107.5 568.77 108.06 570 108.71C571.67 109.59 573.33 111.29 575 112.7C576.67 114.11 578.33 116.04 580 117.18C581.5 118.21 583 118.9 584.5 119.4C587 120.23 589.5 119.9 592 119.9C595 119.9 598 120.02 601 119.6C604 119.18 607 118.12 610 117.39C612.33 116.82 614.67 116.13 617 115.7C619 115.33 621 114.9 623 114.9C625 114.9 627 115.35 629 115.9C631.67 116.63 634.33 118.29 637 119.21C642.17 121.01 647.33 122.6 652.5 122.6C656.67 122.6 660.83 119 665 119C668.33 119 671.67 120.86 675 121.4C677.93 121.87 680.87 121.93 683.8 122.2" fill="none" stroke="#e2c85a" stroke-width="1.1" stroke-linejoin="round" stroke-linecap="round" />
<path d="M496.1 132.3C503.07 132.92 510.03 133.49 517 134.15C521.33 134.56 525.67 135.13 530 135.44C532 135.59 534 135.69 536 135.8C537.33 135.87 538.67 136 540 136C542.5 136 545 135.07 547.5 133.52C549.87 132.05 552.23 129.1 554.6 127.17C556.37 125.72 558.13 124.36 559.9 123.14C560.93 122.42 561.97 121.56 563 121.12C564.1 120.65 565.2 120.5 566.3 120.5C567.53 120.5 568.77 121.02 570 121.62C571.67 122.43 573.33 124.01 575 125.32C576.67 126.62 578.33 128.41 580 129.46C581.5 130.41 583 131.04 584.5 131.5C587 132.27 589.5 132 592 132C595 132 598 132.11 601 131.7C604 131.29 607 130.25 610 129.54C612.33 128.99 614.67 128.32 617 127.9C619 127.54 621 127.1 623 127.1C625 127.1 627 127.55 629 128.1C631.67 128.83 634.33 130.49 637 131.41C642.17 133.21 647.33 134.8 652.5 134.8C656.67 134.8 660.83 131 665 131C668.33 131 671.67 132.5 675 132.5C677.93 132.5 680.87 132.43 683.8 132.4" fill="none" stroke="#c5c45a" stroke-width="1.1" stroke-linejoin="round" stroke-linecap="round" />
<path d="M496.1 142.2C503.07 142.43 510.03 142.65 517 142.9C521.33 143.06 525.67 143.33 530 143.39C532 143.42 534 143.34 536 143.4C537.33 143.44 538.67 143.6 540 143.6C542.5 143.6 545 142.83 547.5 141.55C549.87 140.34 552.23 137.9 554.6 136.3C556.37 135.11 558.13 133.98 559.9 132.98C560.93 132.39 561.97 131.68 563 131.31C564.1 130.92 565.2 130.8 566.3 130.8C567.53 130.8 568.77 131.27 570 131.81C571.67 132.54 573.33 133.96 575 135.14C576.67 136.32 578.33 137.94 580 138.88C581.5 139.73 583 140.28 584.5 140.7C587 141.39 589.5 141.2 592 141.2C595 141.2 598 141.22 601 140.9C604 140.58 607 139.75 610 139.25C612.33 138.87 614.67 138.53 617 138.2C619 137.92 621 137.4 623 137.4C625 137.4 627 137.87 629 138.4C631.67 139.11 634.33 140.7 637 141.6C642.17 143.34 647.33 144.9 652.5 144.9C656.67 144.9 660.83 141 665 141C668.33 141 671.67 142.25 675 142.25C677.93 142.25 680.87 142.02 683.8 141.9" fill="none" stroke="#93ae4e" stroke-width="1.1" stroke-linejoin="round" stroke-linecap="round" />
<path d="M496.1 150.5C503.07 150.62 510.03 150.72 517 150.85C521.33 150.93 525.67 151.09 530 151.09C532 151.09 534 151 536 151C537.33 151 538.67 151.2 540 151.2C542.5 151.2 545 150.58 547.5 149.54C549.87 148.55 552.23 146.57 554.6 145.27C556.37 144.3 558.13 143.39 559.9 142.57C560.93 142.09 561.97 141.51 563 141.22C564.1 140.9 565.2 140.8 566.3 140.8C567.53 140.8 568.77 141.18 570 141.62C571.67 142.22 573.33 143.37 575 144.33C576.67 145.28 578.33 146.6 580 147.36C581.5 148.04 583 148.46 584.5 148.8C587 149.36 589.5 149.3 592 149.3C595 149.3 598 149.28 601 149C604 148.72 607 147.99 610 147.59C612.33 147.28 614.67 147.09 617 146.8C619 146.55 621 146 623 146C625 146 627 146.56 629 147C631.67 147.59 634.33 148.69 637 149.36C642.17 150.66 647.33 152 652.5 152C656.67 152 660.83 149 665 149C668.33 149 671.67 150.3 675 150.3C677.93 150.3 680.87 150.1 683.8 150" fill="none" stroke="#4f8a3c" stroke-width="1.1" stroke-linejoin="round" stroke-linecap="round" />
<rect x="495.6" y="6.2" width="188.7" height="154.8" fill="none" stroke="#3a3a3a" stroke-width="1.15"/>
<line x1="495.3" y1="161" x2="495.3" y2="162.7" stroke="#3a3a3a" stroke-width="1" />
<line x1="513.2" y1="161" x2="513.2" y2="163.8" stroke="#3a3a3a" stroke-width="1" />
<line x1="531.1" y1="161" x2="531.1" y2="162.7" stroke="#3a3a3a" stroke-width="1" />
<line x1="549" y1="161" x2="549" y2="163.8" stroke="#3a3a3a" stroke-width="1" />
<line x1="566.9" y1="161" x2="566.9" y2="162.7" stroke="#3a3a3a" stroke-width="1" />
<line x1="584.8" y1="161" x2="584.8" y2="163.8" stroke="#3a3a3a" stroke-width="1" />
<line x1="602.7" y1="161" x2="602.7" y2="162.7" stroke="#3a3a3a" stroke-width="1" />
<line x1="620.6" y1="161" x2="620.6" y2="163.8" stroke="#3a3a3a" stroke-width="1" />
<line x1="638.5" y1="161" x2="638.5" y2="162.7" stroke="#3a3a3a" stroke-width="1" />
<line x1="656.4" y1="161" x2="656.4" y2="163.8" stroke="#3a3a3a" stroke-width="1" />
<line x1="674.3" y1="161" x2="674.3" y2="162.7" stroke="#3a3a3a" stroke-width="1" />
<text x="513.2" y="172.4" font-size="8" text-anchor="middle" fill="#1a1a1a" >1600</text>
<text x="549" y="172.4" font-size="8" text-anchor="middle" fill="#1a1a1a" >1500</text>
<text x="584.8" y="172.4" font-size="8" text-anchor="middle" fill="#1a1a1a" >1400</text>
<text x="620.6" y="172.4" font-size="8" text-anchor="middle" fill="#1a1a1a" >1300</text>
<text x="656.4" y="172.4" font-size="8" text-anchor="middle" fill="#1a1a1a" >1200</text>
<text x="548.8" y="183" font-size="9.4" fill="#1a1a1a">Wavenumber (cm<tspan font-size="6" dy="-3.6">-1</tspan><tspan dy="3.6">)</tspan></text>
<text x="0" y="0" font-size="9.7" text-anchor="middle" fill="#1a1a1a" transform="translate(489 83.6) rotate(-90)">Absorbance (arb. units)</text>
<text x="483.4" y="9.6" font-size="14" text-anchor="start" fill="#1a1a1a" >c</text>
<line x1="566.2" y1="25.3" x2="566.2" y2="154" stroke="#000" stroke-width="1.35" stroke-dasharray="5.6 2.5"/>
<line x1="624" y1="34.1" x2="624" y2="153.5" stroke="#000" stroke-width="1.35" stroke-dasharray="5.6 2.5"/>
<line x1="509.3" y1="45.5" x2="509.3" y2="145.4" stroke="#111" stroke-width="1.5" stroke-dasharray="8.4 2.3"/>
<polygon points="509.3,38.8 512.8,46.2 505.8,46.2" fill="#111"/>
<text x="505" y="37.3" font-size="10.5" text-anchor="start" fill="#1a1a1a" >0 V</text>
<text x="502.5" y="159.1" font-size="10" text-anchor="start" fill="#1a1a1a" >0.9 V</text>
<text x="639" y="16" font-size="10.2" fill="#1a1a1a">with SiO<tspan font-size="6.4" dy="2.6">2</tspan></text>
<text x="536.4" y="25" font-size="9.9" fill="#1a1a1a">O-O<tspan font-size="5.9" dy="2.8">stir</tspan></text>
<text x="575.5" y="28" font-size="10" fill="#1a1a1a">HOOH<tspan font-size="6.2" dy="3.4">ads</tspan></text>
<text x="617.8" y="30.2" font-size="10" fill="#1a1a1a">OOH<tspan font-size="6.2" dy="3.2">ads</tspan></text>
<rect x="34.2" y="216.3" width="189.1" height="151.3" fill="none" stroke="#3a3a3a" stroke-width="1.15"/>
<line x1="34.2" y1="367.6" x2="34.2" y2="370.2" stroke="#3a3a3a" stroke-width="1" />
<line x1="53.11" y1="367.6" x2="53.11" y2="369.2" stroke="#3a3a3a" stroke-width="1" />
<line x1="72.02" y1="367.6" x2="72.02" y2="370.2" stroke="#3a3a3a" stroke-width="1" />
<line x1="90.93" y1="367.6" x2="90.93" y2="369.2" stroke="#3a3a3a" stroke-width="1" />
<line x1="109.84" y1="367.6" x2="109.84" y2="370.2" stroke="#3a3a3a" stroke-width="1" />
<line x1="128.75" y1="367.6" x2="128.75" y2="369.2" stroke="#3a3a3a" stroke-width="1" />
<line x1="147.66" y1="367.6" x2="147.66" y2="370.2" stroke="#3a3a3a" stroke-width="1" />
<line x1="166.57" y1="367.6" x2="166.57" y2="369.2" stroke="#3a3a3a" stroke-width="1" />
<line x1="185.48" y1="367.6" x2="185.48" y2="370.2" stroke="#3a3a3a" stroke-width="1" />
<line x1="204.39" y1="367.6" x2="204.39" y2="369.2" stroke="#3a3a3a" stroke-width="1" />
<line x1="223.3" y1="367.6" x2="223.3" y2="370.2" stroke="#3a3a3a" stroke-width="1" />
<line x1="34.2" y1="365.8" x2="31.6" y2="365.8" stroke="#3a3a3a" stroke-width="1" />
<line x1="34.2" y1="347.08" x2="32.6" y2="347.08" stroke="#3a3a3a" stroke-width="1" />
<line x1="34.2" y1="328.36" x2="31.6" y2="328.36" stroke="#3a3a3a" stroke-width="1" />
<line x1="34.2" y1="309.64" x2="32.6" y2="309.64" stroke="#3a3a3a" stroke-width="1" />
<line x1="34.2" y1="290.92" x2="31.6" y2="290.92" stroke="#3a3a3a" stroke-width="1" />
<line x1="34.2" y1="272.2" x2="32.6" y2="272.2" stroke="#3a3a3a" stroke-width="1" />
<line x1="34.2" y1="253.48" x2="31.6" y2="253.48" stroke="#3a3a3a" stroke-width="1" />
<line x1="34.2" y1="234.76" x2="32.6" y2="234.76" stroke="#3a3a3a" stroke-width="1" />
<line x1="34.2" y1="216.04" x2="31.6" y2="216.04" stroke="#3a3a3a" stroke-width="1" />
<text x="34.2" y="379.6" font-size="8.8" text-anchor="middle" fill="#1a1a1a" >7100</text>
<text x="72.02" y="379.6" font-size="8.8" text-anchor="middle" fill="#1a1a1a" >7120</text>
<text x="109.84" y="379.6" font-size="8.8" text-anchor="middle" fill="#1a1a1a" >7140</text>
<text x="147.66" y="379.6" font-size="8.8" text-anchor="middle" fill="#1a1a1a" >7160</text>
<text x="185.48" y="379.6" font-size="8.8" text-anchor="middle" fill="#1a1a1a" >7180</text>
<text x="223.3" y="379.6" font-size="8.8" text-anchor="middle" fill="#1a1a1a" >7200</text>
<text x="28.3" y="369" font-size="8.8" text-anchor="end" fill="#1a1a1a" >0.0</text>
<text x="28.3" y="331.56" font-size="8.8" text-anchor="end" fill="#1a1a1a" >0.4</text>
<text x="28.3" y="294.12" font-size="8.8" text-anchor="end" fill="#1a1a1a" >0.8</text>
<text x="28.3" y="256.68" font-size="8.8" text-anchor="end" fill="#1a1a1a" >1.2</text>
<text x="28.3" y="219.24" font-size="8.8" text-anchor="end" fill="#1a1a1a" >1.6</text>
<text x="127.1" y="391.6" font-size="11" text-anchor="middle" fill="#1a1a1a" >E (eV)</text>
<text x="0" y="0" font-size="11" text-anchor="middle" fill="#1a1a1a" transform="translate(11.4 286) rotate(-90)">XANES (arb. units)</text>
<text x="3.6" y="219.6" font-size="14" text-anchor="start" fill="#1a1a1a" >d</text>
<path d="M34.2 363.46C36.53 363.43 38.86 363.45 41.2 363.37C43.4 363.29 45.61 363.33 47.82 362.99C48.63 362.87 49.45 363.18 50.27 362.52C51.35 361.66 52.42 359.68 53.49 357.38C54.12 356.02 54.75 354.1 55.38 352.7C56.2 350.87 57.02 349.24 57.84 348.02C59.29 345.86 60.74 346.37 62.19 344.74C63.38 343.39 64.58 342.39 65.78 339.59C66.79 337.24 67.8 333.73 68.81 330.23C70.38 324.76 71.96 318.69 73.53 311.04C75.11 303.4 76.68 292.64 78.26 284.37C79.46 278.08 80.66 271.49 81.85 266.58C82.55 263.74 83.24 261.18 83.93 259.1C84.56 257.2 85.19 255.58 85.82 254.42C86.64 252.9 87.46 252.56 88.28 251.89C89.29 251.07 90.3 250.52 91.31 250.2C92.19 249.92 93.07 249.92 93.96 249.92C95.15 249.92 96.35 250.27 97.55 250.48C98.49 250.65 99.44 250.8 100.39 251.05C101.71 251.39 103.03 251.91 104.36 252.45C105.74 253.02 107.13 253.54 108.52 254.42C109.84 255.25 111.16 256.29 112.49 257.5C114.19 259.07 115.89 261.38 117.59 263.12C118.79 264.34 119.99 265.6 121.19 266.58C124.46 269.29 127.74 269.79 131.02 270.98C134.04 272.09 137.07 273 140.1 273.6C142.62 274.11 145.14 274.54 147.66 274.54C150.18 274.54 152.7 274.56 155.22 274.26C158.38 273.89 161.53 273.01 164.68 272.2C167.83 271.39 170.98 270.1 174.13 269.39C177.92 268.54 181.7 268.18 185.48 267.8C190.52 267.29 195.57 267.22 200.61 267.05C208.17 266.8 215.74 266.93 223.3 266.86" fill="none" stroke="#8a8a8a" stroke-width="1" stroke-linejoin="round" stroke-linecap="round" />
<path d="M34.2 363.46C36.85 363.43 39.49 363.46 42.14 363.37C44.35 363.29 46.55 363.9 48.76 362.99C49.83 362.55 50.9 362.32 51.98 361.12C52.79 360.21 53.61 358.67 54.43 357.38C55.38 355.88 56.32 353.94 57.27 352.7C58.22 351.45 59.16 350.82 60.11 349.89C61.05 348.95 62 348.35 62.94 347.08C64.01 345.64 65.09 344.1 66.16 341.46C67.29 338.67 68.43 334.63 69.56 330.51C71.07 325.02 72.59 319 74.1 311.51C75.68 303.71 77.25 292.71 78.83 284.37C80.03 278.03 81.22 271.99 82.42 266.58C82.92 264.31 83.43 261.74 83.93 260.03C84.56 257.89 85.19 256.93 85.82 255.82C86.64 254.38 87.46 253.72 88.28 253.01C89.29 252.14 90.3 251.74 91.31 251.42C92.19 251.14 93.07 251.05 93.96 251.05C95.15 251.05 96.35 251.41 97.55 251.7C98.49 251.93 99.44 252.23 100.39 252.54C101.71 252.98 103.03 253.44 104.36 254.04C105.74 254.67 107.13 255.42 108.52 256.29C109.84 257.12 111.16 257.99 112.49 259.1C114.19 260.52 115.89 262.49 117.59 264.24C118.79 265.48 119.99 266.85 121.19 267.99C124.46 271.12 127.74 273.36 131.02 275.01C134.04 276.53 137.07 277.19 140.1 277.82C142.93 278.4 145.77 278.75 148.61 278.75C150.81 278.75 153.02 278.77 155.22 278.47C158.38 278.05 161.53 276.99 164.68 275.94C167.83 274.9 170.98 273.24 174.13 272.2C177.92 270.96 181.7 270.05 185.48 269.39C190.52 268.52 195.57 268.54 200.61 268.27C208.17 267.87 215.74 267.96 223.3 267.8" fill="none" stroke="#b4b4e8" stroke-width="1" stroke-linejoin="round" stroke-linecap="round" />
<path d="M34.2 363.46C36.91 363.43 39.62 363.46 42.33 363.37C44.54 363.29 46.74 363.9 48.95 362.99C50.02 362.55 51.09 362.32 52.16 361.12C52.98 360.21 53.8 358.67 54.62 357.38C55.57 355.88 56.51 353.94 57.46 352.7C58.4 351.45 59.35 350.82 60.3 349.89C61.24 348.95 62.19 348.35 63.13 347.08C64.2 345.64 65.28 344.1 66.35 341.46C67.48 338.67 68.62 334.63 69.75 330.51C71.26 325.02 72.78 319 74.29 311.51C75.87 303.71 77.44 292.71 79.02 284.37C80.21 278.03 81.41 272.39 82.61 266.58C83.05 264.45 83.49 261.86 83.93 260.22C84.56 257.87 85.19 257.17 85.82 256.1C86.64 254.71 87.46 254.16 88.28 253.48C89.29 252.65 90.3 252.21 91.31 251.89C92.19 251.61 93.07 251.51 93.96 251.51C95.15 251.51 96.35 251.87 97.55 252.17C98.49 252.4 99.44 252.69 100.39 253.01C101.71 253.46 103.03 253.98 104.36 254.6C105.74 255.25 107.13 255.98 108.52 256.85C109.84 257.68 111.16 258.55 112.49 259.66C114.19 261.09 115.89 263.03 117.59 264.81C118.79 266.06 119.99 267.47 121.19 268.64C124.46 271.84 127.74 274.09 131.02 275.76C134.04 277.29 137.07 277.94 140.1 278.56C142.93 279.15 145.77 279.5 148.61 279.5C150.81 279.5 153.02 279.52 155.22 279.22C158.38 278.79 161.53 277.71 164.68 276.69C167.83 275.68 170.98 274.14 174.13 273.14C177.92 271.93 181.7 271 185.48 270.33C190.52 269.43 195.57 269.33 200.61 269.02C208.17 268.55 215.74 268.64 223.3 268.46" fill="none" stroke="#86c47c" stroke-width="1" stroke-linejoin="round" stroke-linecap="round" />
<path d="M34.2 363.46C36.85 363.43 39.49 363.46 42.14 363.37C44.35 363.29 46.55 363.9 48.76 362.99C49.83 362.55 50.9 362.32 51.98 361.12C52.79 360.21 53.61 358.67 54.43 357.38C55.38 355.88 56.32 353.94 57.27 352.7C58.22 351.45 59.16 350.82 60.11 349.89C61.05 348.95 62 348.35 62.94 347.08C64.01 345.64 65.09 344.1 66.16 341.46C67.29 338.67 68.43 334.63 69.56 330.51C71.07 325.02 72.59 319 74.1 311.51C75.68 303.71 77.25 292.71 78.83 284.37C80.03 278.03 81.22 271.47 82.42 266.58C82.92 264.53 83.43 262.51 83.93 260.97C84.56 259.04 85.19 257.84 85.82 256.76C86.64 255.34 87.46 254.79 88.28 254.14C89.29 253.33 90.3 253.03 91.31 252.73C92.19 252.47 93.07 252.36 93.96 252.36C95.15 252.36 96.35 252.8 97.55 253.11C98.49 253.35 99.44 253.62 100.39 253.95C101.71 254.41 103.03 255.03 104.36 255.63C105.74 256.27 107.13 256.86 108.52 257.69C109.84 258.49 111.16 259.34 112.49 260.5C114.19 262 115.89 264.22 117.59 266.12C118.79 267.45 119.99 268.94 121.19 270.14C124.46 273.43 127.74 275.19 131.02 276.88C134.04 278.44 137.07 279.46 140.1 280.16C142.93 280.81 145.77 281.09 148.61 281.09C150.81 281.09 153.02 281.06 155.22 280.81C158.38 280.45 161.53 279.72 164.68 278.75C167.83 277.78 170.98 276.04 174.13 275.01C177.92 273.77 181.7 272.89 185.48 272.2C190.52 271.29 195.57 271.13 200.61 270.8C208.17 270.3 215.74 270.42 223.3 270.23" fill="none" stroke="#f9da55" stroke-width="1" stroke-linejoin="round" stroke-linecap="round" />
<path d="M34.2 363.46C37.04 363.43 39.87 363.47 42.71 363.37C44.92 363.29 47.12 363.9 49.33 362.99C50.4 362.55 51.47 362.32 52.54 361.12C53.36 360.21 54.18 358.67 55 357.38C55.95 355.88 56.89 353.94 57.84 352.7C58.78 351.45 59.73 350.82 60.67 349.89C61.62 348.95 62.57 348.35 63.51 347.08C64.58 345.64 65.65 344.1 66.73 341.46C67.86 338.67 68.99 334.63 70.13 330.51C71.64 325.02 73.15 319 74.67 311.51C76.24 303.71 77.82 292.71 79.39 284.37C80.59 278.03 81.79 276.27 82.99 266.58C83.37 263.53 83.74 258.93 84.12 256.29C84.82 251.45 85.51 251.53 86.2 249.74C86.9 247.94 87.59 246.6 88.28 245.52C89.04 244.35 89.8 243.75 90.55 243.18C91.5 242.48 92.44 242.06 93.39 242.06C94.33 242.06 95.28 242.39 96.22 242.81C97.61 243.43 99 244.77 100.39 245.8C101.71 246.8 103.03 247.9 104.36 248.89C105.74 249.93 107.13 250.81 108.52 251.89C109.9 252.97 111.29 254.12 112.68 255.35C114.32 256.81 115.95 258.44 117.59 260.03C118.79 261.2 119.99 262.44 121.19 263.59C124.46 266.73 127.74 270.15 131.02 272.2C134.42 274.33 137.83 275.21 141.23 275.94C144 276.54 146.78 276.69 149.55 276.69C152.07 276.69 154.59 276.59 157.12 276.13C160.27 275.56 163.42 274.18 166.57 273.14C169.72 272.09 172.87 270.69 176.02 269.86C179.81 268.86 183.59 268.42 187.37 267.99C191.78 267.48 196.2 267.41 200.61 267.24C208.17 266.95 215.74 267.11 223.3 267.05" fill="none" stroke="#f29494" stroke-width="1" stroke-linejoin="round" stroke-linecap="round" />
<path d="M34.2 363.46C36.97 363.43 39.75 363.47 42.52 363.37C44.73 363.29 46.93 363.9 49.14 362.99C50.21 362.55 51.28 362.32 52.35 361.12C53.17 360.21 53.99 358.67 54.81 357.38C55.76 355.88 56.7 353.94 57.65 352.7C58.59 351.45 59.54 350.82 60.48 349.89C61.43 348.95 62.38 348.35 63.32 347.08C64.39 345.64 65.46 344.1 66.54 341.46C67.67 338.67 68.81 334.63 69.94 330.51C71.45 325.02 72.97 319 74.48 311.51C76.05 303.71 77.63 293.04 79.21 284.37C79.9 280.55 80.59 276.84 81.29 273.14C81.92 269.77 82.55 266.31 83.18 263.12C83.74 260.25 84.31 257.63 84.88 254.88C85.45 252.14 86.01 249.15 86.58 246.65C87.08 244.43 87.59 242.24 88.09 240.56C88.91 237.85 89.73 236.51 90.55 235.23C91.12 234.34 91.69 233.75 92.25 233.26C92.95 232.67 93.64 232.23 94.33 232.23C94.96 232.23 95.59 232.3 96.22 232.61C96.92 232.95 97.61 233.76 98.3 234.29C99 234.82 99.69 235.31 100.39 235.79C101.39 236.49 102.4 237.01 103.41 237.76C104.73 238.73 106.06 239.84 107.38 241.12C108.77 242.47 110.16 244.05 111.54 245.71C113.56 248.12 115.58 251.46 117.59 253.76C119.42 255.85 121.25 257.41 123.08 259.1C125.72 261.54 128.37 264.2 131.02 265.84C134.42 267.94 137.83 268.21 141.23 269.11C144.32 269.93 147.41 271.08 150.5 271.08C152.7 271.08 154.91 270.91 157.12 270.52C160.27 269.95 163.42 268.57 166.57 267.52C169.72 266.47 172.87 265.12 176.02 264.24C178.74 263.49 181.45 262.91 184.16 262.47C189.77 261.55 195.38 261.62 200.99 261.62C205.27 261.62 209.56 261.97 213.85 262.37C217 262.67 220.15 263.12 223.3 263.5" fill="none" stroke="#6aa2dc" stroke-width="1" stroke-linejoin="round" stroke-linecap="round" />
<text x="70.2" y="227.3" font-size="9.2" text-anchor="start" fill="#1a1a1a" >White line</text>
<text x="170.4" y="228.2" font-size="9.2" fill="#1a1a1a">without SiO<tspan font-size="5.8" dy="2.2">2</tspan></text>
<rect x="82" y="230.3" width="25.8" height="26.9" fill="none" stroke="#111" stroke-width="1" stroke-dasharray="3.3 3.6"/>
<line x1="94.4" y1="232" x2="95.11" y2="253.6" stroke="#111" stroke-width="0.9" />
<polygon points="95.2,256.3 93.7,253.15 96.49,253.06" fill="#111"/>
<rect x="60.3" y="322.2" width="21.7" height="17.6" fill="none" stroke="#111" stroke-width="1" stroke-dasharray="3.3 3.6"/>
<line x1="82" y1="329.7" x2="63.5" y2="329.7" stroke="#111" stroke-width="0.9" />
<polygon points="61,329.7 64,328.3 64,331.1" fill="#111"/>
<line x1="82.5" y1="321.8" x2="112.65" y2="300" stroke="#111" stroke-width="0.9" />
<polygon points="115,298.3 113.12,301.51 111.37,299.08" fill="#111"/>
<line x1="82.5" y1="340.2" x2="100.46" y2="350.01" stroke="#111" stroke-width="0.9" />
<polygon points="103,351.4 99.3,351.09 100.74,348.45" fill="#111"/>
<line x1="103.2" y1="352.6" x2="125.4" y2="286.9" stroke="#666" stroke-width="0.9" />
<line x1="112.9" y1="352.6" x2="131.3" y2="286.9" stroke="#f9da55" stroke-width="1" />
<line x1="115.6" y1="352.6" x2="134.2" y2="286.9" stroke="#86c47c" stroke-width="1" />
<line x1="116.2" y1="352.6" x2="134.8" y2="286.9" stroke="#f29494" stroke-width="0.8" />
<line x1="116.9" y1="352.6" x2="135.3" y2="286.9" stroke="#6aa2dc" stroke-width="1.6" />
<line x1="116.5" y1="352.6" x2="135" y2="286.9" stroke="#b4b4e8" stroke-width="0.8" opacity="0.7"/>
<line x1="102.5" y1="312" x2="113.68" y2="316.24" stroke="#111" stroke-width="0.9" />
<polygon points="116.2,317.2 112.71,317.37 113.71,314.76" fill="#111"/>
<line x1="142.4" y1="327.5" x2="129.85" y2="323.09" stroke="#111" stroke-width="0.9" />
<polygon points="127.3,322.2 130.78,321.94 129.86,324.58" fill="#111"/>
<text x="134" y="318.8" font-size="9.8" text-anchor="start" fill="#1a1a1a" >1.35 eV</text>
<text x="64.8" y="362.6" font-size="9.3" text-anchor="start" fill="#1a1a1a" >Adsorption edge</text>
<line x1="169.4" y1="295.3" x2="189.3" y2="295.3" stroke="#6aa2dc" stroke-width="1.1" />
<text x="192.5" y="298.6" font-size="9.2" text-anchor="start" fill="#1a1a1a" >before</text>
<line x1="169.4" y1="306.65" x2="189.3" y2="306.65" stroke="#f29494" stroke-width="1.1" />
<text x="192.5" y="309.95" font-size="9.2" text-anchor="start" fill="#1a1a1a" >OCP</text>
<line x1="169.4" y1="318" x2="189.3" y2="318" stroke="#b4b4e8" stroke-width="1.5" />
<text x="192.5" y="321.3" font-size="9.2" text-anchor="start" fill="#1a1a1a" >0.9 V</text>
<line x1="169.4" y1="329.35" x2="189.3" y2="329.35" stroke="#86c47c" stroke-width="1.1" />
<text x="192.5" y="332.65" font-size="9.2" text-anchor="start" fill="#1a1a1a" >0.7 V</text>
<line x1="169.4" y1="340.7" x2="189.3" y2="340.7" stroke="#f9da55" stroke-width="1.1" />
<text x="192.5" y="344" font-size="9.2" text-anchor="start" fill="#1a1a1a" >0.5 V</text>
<line x1="169.4" y1="352.05" x2="189.3" y2="352.05" stroke="#8a8a8a" stroke-width="1.1" />
<text x="192.5" y="355.35" font-size="9.2" text-anchor="start" fill="#1a1a1a" >0.3 V</text>
<rect x="303.2" y="229.7" width="18.6" height="138.2" fill="#d6e4f4"/>
<rect x="330.2" y="244" width="16.6" height="121.5" fill="#f9cdd0"/>
<path d="M268.5 279.5C271 279.47 273.5 279.46 276 279.4C278 279.35 280 279.31 282 279.2C283 279.14 284 279.19 285 279C286.53 278.71 288.07 278.18 289.6 277.3C291.1 276.44 292.6 275.39 294.1 273.8C295.63 272.18 297.17 269.97 298.7 267.6C300.23 265.23 301.77 262.17 303.3 259.6C304.23 258.03 305.17 256.52 306.1 255C307.23 253.15 308.37 251 309.5 249.5C310.5 248.18 311.5 246.96 312.5 246.3C313.4 245.7 314.3 245.5 315.2 245.5C316.3 245.5 317.4 245.68 318.5 246.6C319.5 247.44 320.5 248.83 321.5 250.5C322.27 251.78 323.03 253.69 323.8 255C324.93 256.94 326.07 258.38 327.2 259.6C328.33 260.82 329.47 262.3 330.6 262.3C331.57 262.3 332.53 261.57 333.5 261.2C334.53 260.8 335.57 260 336.6 260C337.73 260 338.87 260.93 340 261.8C341.33 262.82 342.67 264.59 344 266C345.6 267.69 347.2 269.48 348.8 271.1C350.87 273.2 352.93 274.97 355 277C356.17 278.15 357.33 279.74 358.5 280.5C359.33 281.04 360.17 281.5 361 281.5C362 281.5 363 279.85 364 279C365.53 277.7 367.07 275.95 368.6 275C370.73 273.68 372.87 273.86 375 273.3C377.03 272.76 379.07 271.7 381.1 271.7C382.73 271.7 384.37 273.65 386 274.5C387.8 275.44 389.6 277 391.4 277C392.93 277 394.47 274.11 396 273C397.9 271.62 399.8 269.9 401.7 269.9C403.8 269.9 405.9 271.33 408 272.2C410.33 273.17 412.67 274.55 415 275.5C418.2 276.81 421.4 277.86 424.6 278.6C428.07 279.41 431.53 279.68 435 280C438.33 280.3 441.67 280.36 445 280.5C449.17 280.68 453.33 280.77 457.5 280.9" fill="none" stroke="#7a7a7a" stroke-width="1.15" stroke-linejoin="round" stroke-linecap="round" />
<path d="M268.5 296.3C270 295.93 271.5 295.2 273 295.2C274.67 295.2 276.33 296.6 278 296.6C280 296.6 282 295.79 284 295.3C285.87 294.85 287.73 294.3 289.6 293.8C290.73 293.5 291.87 293.33 293 292.9C294.13 292.47 295.27 292.38 296.4 291.2C297.53 290.02 298.67 288.17 299.8 285.8C300.97 283.37 302.13 279.57 303.3 276.7C304.8 273 306.3 269.01 307.8 266.4C308.97 264.37 310.13 262.78 311.3 261.8C312.37 260.9 313.43 260.5 314.5 260.5C315.7 260.5 316.9 261.15 318.1 262.4C319.23 263.58 320.37 265.09 321.5 267.6C322.67 270.18 323.83 274.73 325 277.8C326.13 280.78 327.27 283.72 328.4 285.8C329.13 287.15 329.87 289.1 330.6 289.1C331.4 289.1 332.2 288.24 333 287.4C334 286.35 335 284 336 283C337.03 281.97 338.07 281.4 339.1 281.4C340.07 281.4 341.03 281.85 342 282.2C344 282.93 346 284.38 348 285.5C350.33 286.81 352.67 288.33 355 289.5C357.33 290.67 359.67 291.46 362 292.5C364.1 293.44 366.2 295.4 368.3 295.4C370.87 295.4 373.43 294.41 376 293.8C378.93 293.1 381.87 291.4 384.8 291.4C387.87 291.4 390.93 295.5 394 295.5C396 295.5 398 294.44 400 294C402.57 293.43 405.13 292.6 407.7 292.6C410.47 292.6 413.23 294.07 416 294.8C418.93 295.57 421.87 297.1 424.8 297.1C427.1 297.1 429.4 295.5 431.7 295.5C434.47 295.5 437.23 296.24 440 296.5C445.83 297.04 451.67 296.9 457.5 297.1" fill="none" stroke="#fad22c" stroke-width="1.15" stroke-linejoin="round" stroke-linecap="round" />
<path d="M268.5 307.5C270 307.17 271.5 306.5 273 306.5C274.67 306.5 276.33 308 278 308C279.67 308 281.33 306.8 283 306.8C284.33 306.8 285.67 308 287 308C288.33 308 289.67 305.51 291 304.5C292.9 303.06 294.8 302.33 296.7 301.1C297.83 300.37 298.97 300.46 300.1 298.8C301.07 297.38 302.03 295.02 303 292.6C303.93 290.26 304.87 286.94 305.8 284.6C306.57 282.68 307.33 281.08 308.1 279.5C309.17 277.3 310.23 274.83 311.3 273.6C312.37 272.37 313.43 272.1 314.5 272.1C315.7 272.1 316.9 272.63 318.1 274.4C318.97 275.68 319.83 277.5 320.7 279.8C321.83 282.81 322.97 287.75 324.1 291.4C325.23 295.05 326.37 299.14 327.5 301.7C328.27 303.43 329.03 305.7 329.8 305.7C330.87 305.7 331.93 304.08 333 302.8C334.17 301.4 335.33 298.73 336.5 297.5C337.77 296.17 339.03 295.4 340.3 295.4C341.53 295.4 342.77 296.77 344 297.5C345.33 298.29 346.67 299.12 348 300C350.33 301.53 352.67 303.35 355 305C356.67 306.18 358.33 307.65 360 308.5C361.93 309.49 363.87 310.2 365.8 310.2C368.2 310.2 370.6 309.46 373 308.8C376.93 307.72 380.87 304 384.8 304C387.87 304 390.93 309.2 394 309.2C396.67 309.2 399.33 308.42 402 308.2C404.67 307.98 407.33 307.9 410 307.9C413.33 307.9 416.67 308.56 420 308.8C425 309.16 430 309.3 435 309.5C442.5 309.8 450 309.97 457.5 310.2" fill="none" stroke="#7fbf72" stroke-width="1.15" stroke-linejoin="round" stroke-linecap="round" />
<path d="M268.5 324.2C270.67 323.87 272.83 323.2 275 323.2C276.67 323.2 278.33 324.5 280 324.5C281 324.5 282 323.72 283 323.4C284.53 322.9 286.07 322.55 287.6 322.2C289.5 321.76 291.4 322.85 293.3 321.1C294.43 320.06 295.57 318.6 296.7 316.5C297.83 314.4 298.97 311.35 300.1 308.5C301.23 305.65 302.37 302.02 303.5 299.4C304.67 296.7 305.83 294.2 307 292.6C308.5 290.54 310 289.7 311.5 289.7C313.03 289.7 314.57 290.71 316.1 292.6C317.23 294 318.37 295.71 319.5 298.3C320.67 300.97 321.83 305.43 323 308.5C324.13 311.48 325.27 314.15 326.4 316.5C327.53 318.85 328.67 321.57 329.8 322.6C330.37 323.12 330.93 323.4 331.5 323.4C332.33 323.4 333.17 321.53 334 320.5C335 319.26 336 317.48 337 316.5C338.53 315 340.07 314.5 341.6 314.5C343.07 314.5 344.53 315.95 346 316.5C348.33 317.38 350.67 317.47 353 318.3C355.33 319.13 357.67 320.5 360 321.5C362.67 322.65 365.33 324.7 368 324.7C370.33 324.7 372.67 324.08 375 323.5C378.27 322.69 381.53 320 384.8 320C387.2 320 389.6 321.93 392 322.5C394.67 323.13 397.33 323.16 400 323.4C403.33 323.7 406.67 323.79 410 324C415 324.31 420 325 425 325C430 325 435 324.8 440 324.8C445.83 324.8 451.67 325.4 457.5 325.7" fill="none" stroke="#a3a3e0" stroke-width="1.15" stroke-linejoin="round" stroke-linecap="round" />
<path d="M268.5 341C271 340.87 273.5 340.76 276 340.6C278.33 340.45 280.67 340.28 283 340.1C285.4 339.91 287.8 340.51 290.2 339.5C291.77 338.84 293.33 338.17 294.9 336.5C296.5 334.8 298.1 332.11 299.7 329.3C301.1 326.84 302.5 323.79 303.9 321C304.9 319.01 305.9 317.03 306.9 315C308.07 312.64 309.23 309.24 310.4 307.8C311.53 306.4 312.67 306.3 313.8 306.3C314.93 306.3 316.07 306.73 317.2 308.5C318.13 309.96 319.07 312.57 320 315C321.2 318.13 322.4 322.52 323.6 325.7C324.8 328.88 326 332.1 327.2 334.1C328.07 335.55 328.93 337.2 329.8 337.2C330.87 337.2 331.93 335.13 333 334.3C335 332.74 337 331 339 331C340.67 331 342.33 332.34 344 333C346.67 334.05 349.33 335.15 352 336.1C355 337.17 358 338.05 361 339C364 339.95 367 341.8 370 341.8C372.33 341.8 374.67 340.39 377 339.5C379.23 338.65 381.47 336.6 383.7 336.6C385.47 336.6 387.23 337.96 389 338.5C390.67 339.01 392.33 339.8 394 339.8C396.67 339.8 399.33 339.45 402 339.3C404.67 339.15 407.33 338.9 410 338.9C412.67 338.9 415.33 340.1 418 340.8C420.33 341.41 422.67 342.8 425 342.8C428.33 342.8 431.67 342.3 435 342.3C442.5 342.3 450 343.1 457.5 343.5" fill="none" stroke="#f28080" stroke-width="1.15" stroke-linejoin="round" stroke-linecap="round" />
<path d="M268.5 356.4C269.67 356.2 270.83 355.8 272 355.8C273.33 355.8 274.67 356.6 276 356.6C277.33 356.6 278.67 355.73 280 355.5C281.33 355.27 282.67 355.2 284 355.2C285.33 355.2 286.67 355.3 288 355.3C288.73 355.3 289.47 355.33 290.2 355C290.97 354.65 291.73 353.92 292.5 353.2C294.1 351.71 295.7 349.18 297.3 347.2C298.9 345.22 300.5 343.97 302.1 341.3C303.3 339.3 304.5 336.7 305.7 334.1C306.9 331.5 308.1 327.92 309.3 325.7C310.67 323.18 312.03 320.4 313.4 320.4C314.8 320.4 316.2 321.08 317.6 324C318.8 326.5 320 331.03 321.2 335.3C322.4 339.57 323.6 345.99 324.8 349.6C326.17 353.71 327.53 357.4 328.9 357.4C330.1 357.4 331.3 355.96 332.5 355C333.83 353.93 335.17 352.04 336.5 351.2C338.2 350.13 339.9 350.1 341.6 350.1C343.07 350.1 344.53 351.68 346 352.5C347.33 353.25 348.67 354.18 350 354.8C351.67 355.57 353.33 356.4 355 356.4C356.67 356.4 358.33 355.7 360 355.5C361.67 355.3 363.33 355.2 365 355.2C366.67 355.2 368.33 354.98 370 355.4C371.67 355.82 373.33 357.7 375 357.7C376.67 357.7 378.33 355.17 380 353.9C381.83 352.5 383.67 349.7 385.5 349.7C387 349.7 388.5 350.82 390 351.5C391.33 352.1 392.67 353.5 394 353.5C396 353.5 398 353.5 400 353.5C401.67 353.5 403.33 353.5 405 353.5C406.67 353.5 408.33 355.19 410 356C412 356.97 414 358.8 416 358.8C418.33 358.8 420.67 357.27 423 356.8C425.33 356.33 427.67 356 430 356C433.33 356 436.67 357.09 440 357.5C445.83 358.21 451.67 358.37 457.5 358.8" fill="none" stroke="#5b9bd5" stroke-width="1.15" stroke-linejoin="round" stroke-linecap="round" />
<rect x="268.2" y="216.4" width="189.6" height="151.5" fill="none" stroke="#3a3a3a" stroke-width="1.15"/>
<line x1="268.2" y1="367.9" x2="268.2" y2="370.7" stroke="#3a3a3a" stroke-width="1" />
<line x1="283.99" y1="367.9" x2="283.99" y2="369.6" stroke="#3a3a3a" stroke-width="1" />
<line x1="299.78" y1="367.9" x2="299.78" y2="370.7" stroke="#3a3a3a" stroke-width="1" />
<line x1="315.57" y1="367.9" x2="315.57" y2="369.6" stroke="#3a3a3a" stroke-width="1" />
<line x1="331.36" y1="367.9" x2="331.36" y2="370.7" stroke="#3a3a3a" stroke-width="1" />
<line x1="347.15" y1="367.9" x2="347.15" y2="369.6" stroke="#3a3a3a" stroke-width="1" />
<line x1="362.94" y1="367.9" x2="362.94" y2="370.7" stroke="#3a3a3a" stroke-width="1" />
<line x1="378.73" y1="367.9" x2="378.73" y2="369.6" stroke="#3a3a3a" stroke-width="1" />
<line x1="394.52" y1="367.9" x2="394.52" y2="370.7" stroke="#3a3a3a" stroke-width="1" />
<line x1="410.31" y1="367.9" x2="410.31" y2="369.6" stroke="#3a3a3a" stroke-width="1" />
<line x1="426.1" y1="367.9" x2="426.1" y2="370.7" stroke="#3a3a3a" stroke-width="1" />
<line x1="441.89" y1="367.9" x2="441.89" y2="369.6" stroke="#3a3a3a" stroke-width="1" />
<line x1="457.68" y1="367.9" x2="457.68" y2="370.7" stroke="#3a3a3a" stroke-width="1" />
<text x="268.2" y="379.9" font-size="8.6" text-anchor="middle" fill="#1a1a1a" >0</text>
<text x="299.78" y="379.9" font-size="8.6" text-anchor="middle" fill="#1a1a1a" >1</text>
<text x="331.36" y="379.9" font-size="8.6" text-anchor="middle" fill="#1a1a1a" >2</text>
<text x="362.94" y="379.9" font-size="8.6" text-anchor="middle" fill="#1a1a1a" >3</text>
<text x="394.52" y="379.9" font-size="8.6" text-anchor="middle" fill="#1a1a1a" >4</text>
<text x="426.1" y="379.9" font-size="8.6" text-anchor="middle" fill="#1a1a1a" >5</text>
<text x="457.68" y="379.9" font-size="8.6" text-anchor="middle" fill="#1a1a1a" >6</text>
<text x="363.6" y="390.7" font-size="10.6" text-anchor="middle" fill="#1a1a1a" >R (&#197;)</text>
<text x="0" y="0" font-size="10.9" text-anchor="middle" fill="#1a1a1a" transform="translate(265 286.4) rotate(-90)">FT-EXAFS</text>
<text x="259.3" y="218.3" font-size="14" text-anchor="start" fill="#1a1a1a" >e</text>
<text x="295.2" y="227.9" font-size="9.8" text-anchor="start" fill="#4a8ed6" >Fe-N/O</text>
<text x="325.6" y="241.9" font-size="9.8" text-anchor="start" fill="#a8283a" >Fe-Fe</text>
<text x="401.7" y="226.5" font-size="10" fill="#1a1a1a">without SiO<tspan font-size="6.4" dy="2.4">2</tspan></text>
<text x="455.8" y="275.6" font-size="10" text-anchor="end" fill="#1a1a1a" >0.3 V</text>
<text x="455.8" y="292.3" font-size="10" text-anchor="end" fill="#1a1a1a" >0.5 V</text>
<text x="455.8" y="306.4" font-size="10" text-anchor="end" fill="#1a1a1a" >0.7 V</text>
<text x="455.8" y="321.6" font-size="10" text-anchor="end" fill="#1a1a1a" >0.9 V</text>
<text x="453.6" y="337.9" font-size="10" text-anchor="end" fill="#1a1a1a" >OCP</text>
<text x="455.8" y="354.7" font-size="10" text-anchor="end" fill="#1a1a1a" >before</text>
<polygon points="412,263.8 415.4,263.8 415.4,235.9 423.2,235.9 414.1,227.6 405,235.9 412,235.9" fill="#f9aaae"/>
<line x1="347.2" y1="250.1" x2="358.69" y2="245.53" stroke="#f8bcc0" stroke-width="1.3" />
<polygon points="363.8,243.5 359.33,248.5 357.12,242.93" fill="#f8bcc0"/>
<path d="M349.2 260.8C351.13 260.67 353.07 260.53 355 260.4C357 260.26 359 260.36 361 260C362.5 259.73 364 259.74 365.5 258.8C366.83 257.96 368.17 256.6 369.5 255C371.07 253.12 372.63 252.23 374.2 248C375.17 245.39 376.13 240.94 377.1 238C378.2 234.66 379.3 231.85 380.4 229.5C381.47 227.22 382.53 225.26 383.6 224C384.53 222.9 385.47 222 386.4 222C387.3 222 388.2 222.77 389.1 223.8C390.27 225.14 391.43 227.41 392.6 230C393.57 232.14 394.53 235.72 395.5 237.5C396.67 239.65 397.83 240.8 399 240.8C400.53 240.8 402.07 239.4 403.6 239.4C405.07 239.4 406.53 241.58 408 243C410 244.93 412 247.92 414 250C416 252.08 418 253.42 420 255.5C422 257.58 424 260.17 426 262.5" fill="none" stroke="#7a7a7a" stroke-width="0.95" stroke-linejoin="round" stroke-linecap="round" />
<path d="M349.2 260.8C351.13 260.67 353.07 260.53 355 260.4C357 260.26 359 260.36 361 260C362.5 259.73 364 259.74 365.5 258.8C366.83 257.96 368.17 256.48 369.5 255C371.27 253.04 373.03 252.76 374.8 248C375.77 245.39 376.73 240.94 377.7 238C378.8 234.66 379.9 231.85 381 229.5C382.07 227.22 383.13 225.34 384.2 224C384.91 223.11 385.61 222 386.32 222C387.22 222 388.12 222.72 389.02 224.2C390.17 226.09 391.31 229.94 392.46 233.5C393.51 236.75 394.55 241.07 395.6 244.4C396.63 247.69 397.67 253.4 398.7 253.4C399.97 253.4 401.23 251.08 402.5 249.7C403.8 248.29 405.1 245 406.4 245C408.27 245 410.13 247.71 412 249C414 250.38 416 251.38 418 253C420.67 255.16 423.33 258.33 426 261" fill="none" stroke="#fad22c" stroke-width="0.95" stroke-linejoin="round" stroke-linecap="round" />
<path d="M349.2 260.8C351.13 260.67 353.07 260.53 355 260.4C357 260.26 359 260.36 361 260C362.5 259.73 364 259.74 365.5 258.8C366.83 257.96 368.17 257.57 369.5 255C370.4 253.26 371.3 250.7 372.2 248C373.17 245.1 374.13 240.94 375.1 238C376.2 234.66 377.3 231.85 378.4 229.5C379.47 227.22 380.53 225.25 381.6 224C382.65 222.77 383.71 222 384.76 222C385.66 222 386.56 222.44 387.46 224.2C388.43 226.1 389.41 229.53 390.38 233.5C391.69 238.83 392.99 249.29 394.3 254.2C395.77 259.71 397.23 263.2 398.7 263.2C399.97 263.2 401.23 260.41 402.5 258.8C403.8 257.15 405.1 253.4 406.4 253.4C408.27 253.4 410.13 256.11 412 257.4C414 258.78 416 260.63 418 261.4C420.67 262.43 423.33 261.47 426 261.5" fill="none" stroke="#5b9bd5" stroke-width="0.95" stroke-linejoin="round" stroke-linecap="round" />
<path d="M349.2 260.8C351.13 260.67 353.07 260.53 355 260.4C357 260.26 359 260.36 361 260C362.5 259.73 364 259.74 365.5 258.8C366.83 257.96 368.17 256.92 369.5 255C370.73 253.22 371.97 251.41 373.2 248C374.17 245.33 375.13 240.94 376.1 238C377.2 234.66 378.3 231.85 379.4 229.5C380.47 227.22 381.53 225.26 382.6 224C383.52 222.91 384.44 222 385.36 222C386.26 222 387.16 222.56 388.06 224.2C389.1 226.09 390.14 229.92 391.18 233.5C392.39 237.65 393.59 244.07 394.8 247.9C396.1 252.03 397.4 256.9 398.7 256.9C399.97 256.9 401.23 254.81 402.5 253.55C403.8 252.25 405.1 249.2 406.4 249.2C408.27 249.2 410.13 251.91 412 253.2C414 254.58 416 256.03 418 257.2C420.67 258.76 423.33 259.73 426 261" fill="none" stroke="#f28080" stroke-width="0.95" stroke-linejoin="round" stroke-linecap="round" />
<path d="M349.2 260.8C351.13 260.67 353.07 260.53 355 260.4C357 260.26 359 260.36 361 260C362.5 259.73 364 259.74 365.5 258.8C366.83 257.96 368.17 256.73 369.5 255C370.9 253.18 372.3 251.81 373.7 248C374.67 245.37 375.63 240.94 376.6 238C377.7 234.66 378.8 231.85 379.9 229.5C380.97 227.22 382.03 225.28 383.1 224C383.95 222.98 384.81 222 385.66 222C386.56 222 387.46 222.62 388.36 224.2C389.43 226.09 390.51 229.88 391.58 233.5C392.74 237.4 393.89 243.3 395.05 247C396.27 250.89 397.48 256 398.7 256C399.97 256 401.23 253.31 402.5 251.75C403.8 250.15 405.1 246.5 406.4 246.5C408.27 246.5 410.13 249.21 412 250.5C414 251.88 416 253.04 418 254.5C420.67 256.44 423.33 258.83 426 261" fill="none" stroke="#7fbf72" stroke-width="0.95" stroke-linejoin="round" stroke-linecap="round" />
<path d="M349.2 260.8C351.13 260.67 353.07 260.53 355 260.4C357 260.26 359 260.36 361 260C362.5 259.73 364 259.74 365.5 258.8C366.83 257.96 368.17 257.18 369.5 255C370.57 253.25 371.63 251.04 372.7 248C373.67 245.25 374.63 240.94 375.6 238C376.7 234.66 377.8 231.85 378.9 229.5C379.97 227.22 381.03 225.26 382.1 224C383.09 222.84 384.07 222 385.06 222C385.96 222 386.86 222.5 387.76 224.2C388.77 226.1 389.77 229.82 390.78 233.5C392.04 238.09 393.29 245.82 394.55 250C395.93 254.6 397.32 259 398.7 259C399.97 259 401.23 256.81 402.5 255.5C403.8 254.15 405.1 251 406.4 251C408.27 251 410.13 253.71 412 255C414 256.38 416 258.02 418 259C420.67 260.3 423.33 260.33 426 261" fill="none" stroke="#a3a3e0" stroke-width="0.95" stroke-linejoin="round" stroke-linecap="round" />
<polygon points="589.6,242.7 603,259.8 596.6,259.2 600.3,352.8 596.2,352.8 590.2,259.6 582.6,260.2" fill="#f8bbbf"/>
<path d="M495.3 265.3C503.53 265.13 511.77 264.99 520 264.78C527 264.6 534 264.33 541 264.15C543 264.1 545 265.81 547 264C548.33 262.79 549.67 260.53 551 258.02C552.6 255.02 554.2 249.68 555.8 246.79C557.07 244.5 558.33 242.65 559.6 241.53C560.9 240.39 562.2 240.1 563.5 240.1C565.67 240.1 567.83 244.98 570 247.4C572.67 250.38 575.33 254.91 578 256.3C579 256.82 580 257.2 581 257.2C584 257.2 587 254.7 590 254.7C594 254.7 598 258.8 602 258.8C604.67 258.8 607.33 252.88 610 250.8C613.17 248.34 616.33 245.9 619.5 245.9C623.33 245.9 627.17 257.32 631 261.06C634.67 264.64 638.33 268.2 642 268.2C649 268.2 656 260.1 663 260.1C669.77 260.1 676.53 260.9 683.3 261.3" fill="none" stroke="#e8222c" stroke-width="1.1" stroke-linejoin="round" stroke-linecap="round" />
<path d="M495.3 278.2C503.53 278.04 511.77 277.91 520 277.72C527 277.55 534 277.33 541 277.15C543 277.1 545 278.91 547 277C548.33 275.73 549.67 273.34 551 270.7C552.6 267.53 554.2 261.9 555.8 258.86C557.07 256.44 558.33 254.49 559.6 253.31C560.9 252.1 562.2 251.8 563.5 251.8C565.67 251.8 567.83 254.09 570 256.3C572.67 259.02 575.33 264.67 578 267.7C580 269.97 582 273.2 584 273.2C586 273.2 588 271.8 590 271.8C593.33 271.8 596.67 276 600 276C603.33 276 606.67 266.85 610 263.41C613.17 260.15 616.33 255.7 619.5 255.7C623.33 255.7 627.17 269.52 631 273.92C636.67 280.43 642.33 282.5 648 282.5C654.33 282.5 660.67 275.4 667 275.4C672.43 275.4 677.87 276.47 683.3 277" fill="none" stroke="#ec4a3c" stroke-width="1.1" stroke-linejoin="round" stroke-linecap="round" />
<path d="M495.3 288.6C503.53 288.45 511.77 288.34 520 288.16C527 288.01 534 287.82 541 287.65C543 287.6 545 289.28 547 287.5C548.33 286.31 549.67 284.09 551 281.62C552.6 278.67 554.2 273.42 555.8 270.58C557.07 268.33 558.33 266.51 559.6 265.41C560.9 264.28 562.2 264 563.5 264C565.67 264 567.83 264.73 570 266.1C572.67 267.79 575.33 271.94 578 274.2C580.33 276.17 582.67 278.12 585 279.1C587 279.94 589 279.83 591 280.2C594.67 280.88 598.33 282.3 602 282.3C604.67 282.3 607.33 277.16 610 275.36C613.17 273.22 616.33 271.1 619.5 271.1C623.33 271.1 627.17 280.29 631 283.2C636.33 287.26 641.67 288.9 647 288.9C653.33 288.9 659.67 285.6 666 285.6C671.77 285.6 677.53 287.33 683.3 288.2" fill="none" stroke="#f06e40" stroke-width="1.1" stroke-linejoin="round" stroke-linecap="round" />
<path d="M495.3 303.4C503.53 303.21 511.77 303.07 520 302.84C527 302.64 534 302.34 541 302.15C543 302.1 545 304.01 547 302C548.33 300.66 549.67 298.15 551 295.38C552.6 292.04 554.2 286.12 555.8 282.92C557.07 280.38 558.33 278.33 559.6 277.09C560.9 275.82 562.2 275.5 563.5 275.5C565.67 275.5 567.83 277.08 570 278.6C572.67 280.47 575.33 284.19 578 286.4C582 289.71 586 291.76 590 293.7C593.33 295.31 596.67 297.5 600 297.5C603.33 297.5 606.67 291.68 610 289.5C613.17 287.43 616.33 284.6 619.5 284.6C623.33 284.6 627.17 294.35 631 297.45C636.67 302.04 642.33 303.5 648 303.5C654.67 303.5 661.33 299 668 299C673.1 299 678.2 301.13 683.3 302.2" fill="none" stroke="#f39a48" stroke-width="1.1" stroke-linejoin="round" stroke-linecap="round" />
<path d="M495.3 311.8C503.53 311.63 511.77 311.49 520 311.28C527 311.1 534 310.83 541 310.65C543 310.6 545 312.37 547 310.5C548.33 309.25 549.67 306.91 551 304.32C552.6 301.22 554.2 295.7 555.8 292.72C557.07 290.35 558.33 288.44 559.6 287.28C560.9 286.1 562.2 285.8 563.5 285.8C565.67 285.8 567.83 286.84 570 288.8C572.33 290.92 574.67 295.72 577 298.5C579.33 301.28 581.67 303.81 584 305.5C589.33 309.37 594.67 307.1 600 307.1C603.33 307.1 606.67 300.2 610 297.61C613.17 295.16 616.33 291.8 619.5 291.8C623.33 291.8 627.17 303.72 631 307.51C636.33 312.78 641.67 314.9 647 314.9C653.67 314.9 660.33 307.9 667 307.9C672.43 307.9 677.87 308.3 683.3 308.5" fill="none" stroke="#f2b14c" stroke-width="1.1" stroke-linejoin="round" stroke-linecap="round" />
<path d="M495.3 321.3C503.53 321.13 511.77 320.99 520 320.78C527 320.6 534 320.33 541 320.15C543 320.1 545 321.95 547 320C548.33 318.7 549.67 316.27 551 313.57C552.6 310.34 554.2 304.6 555.8 301.5C557.07 299.04 558.33 297.04 559.6 295.84C560.9 294.61 562.2 294.3 563.5 294.3C565.67 294.3 567.83 295.88 570 298.2C571.83 300.17 573.67 303.99 575.5 306.3C578.33 309.87 581.17 312.34 584 314.2C589.33 317.7 594.67 316.5 600 316.5C603.33 316.5 606.67 310.82 610 308.69C613.17 306.66 616.33 303.9 619.5 303.9C623.33 303.9 627.17 313.47 631 316.55C637.33 321.64 643.67 322.5 650 322.5C655.33 322.5 660.67 319.3 666 319.3C671.77 319.3 677.53 320.57 683.3 321.2" fill="none" stroke="#eec256" stroke-width="1.1" stroke-linejoin="round" stroke-linecap="round" />
<path d="M495.3 332.5C503.53 332.3 511.77 332.15 520 331.9C527 331.69 534 331.34 541 331.15C543 331.1 545 332.99 547 331C548.33 329.68 549.67 327.2 551 324.45C552.6 321.16 554.2 315.3 555.8 312.14C557.07 309.63 558.33 307.6 559.6 306.37C560.9 305.11 562.2 304.8 563.5 304.8C565.67 304.8 567.83 306.36 570 308.3C571.83 309.94 573.67 312.83 575.5 314.9C578.33 318.1 581.17 321.61 584 323.6C589.33 327.35 594.67 325.2 600 325.2C603.33 325.2 606.67 320.24 610 318.38C613.17 316.61 616.33 314.2 619.5 314.2C623.33 314.2 627.17 325.36 631 328.96C637.33 334.89 643.67 335.9 650 335.9C656 335.9 662 330.9 668 330.9C673.1 330.9 678.2 331.7 683.3 332.1" fill="none" stroke="#e2c85a" stroke-width="1.1" stroke-linejoin="round" stroke-linecap="round" />
<path d="M495.3 338.9C503.53 338.78 511.77 338.68 520 338.54C527 338.42 534 338.31 541 338.15C543 338.1 545 339.76 547 338C548.33 336.83 549.67 334.63 551 332.2C552.6 329.28 554.2 324.1 555.8 321.3C557.07 319.07 558.33 317.28 559.6 316.19C560.9 315.08 562.2 314.8 563.5 314.8C565.67 314.8 567.83 315.68 570 317.4C571.83 318.86 573.67 321.81 575.5 323.6C578.33 326.36 581.17 328.44 584 329.9C589.33 332.65 594.67 331.4 600 331.4C603.33 331.4 606.67 327.79 610 326.44C613.17 325.16 616.33 323.4 619.5 323.4C623.33 323.4 627.17 332.76 631 335.78C637.33 340.75 643.67 341.6 650 341.6C655.33 341.6 660.67 337.2 666 337.2C671.77 337.2 677.53 338.07 683.3 338.5" fill="none" stroke="#c5c45a" stroke-width="1.1" stroke-linejoin="round" stroke-linecap="round" />
<path d="M495.3 350.1C503.53 349.95 511.77 349.84 520 349.66C527 349.51 534 349.32 541 349.15C543 349.1 545 350.86 547 349C548.33 347.76 549.67 345.44 551 342.88C552.6 339.79 554.2 334.32 555.8 331.36C557.07 329.01 558.33 327.12 559.6 325.97C560.9 324.79 562.2 324.5 563.5 324.5C565.67 324.5 567.83 325.59 570 327.4C571.83 328.93 573.67 331.84 575.5 333.8C578.33 336.84 581.17 339.89 584 341.7C589.33 345.11 594.67 343.2 600 343.2C603.33 343.2 606.67 340.4 610 339.36C613.17 338.36 616.33 337 619.5 337C623.33 337 627.17 345.91 631 348.76C637 353.23 643 354.3 649 354.3C655 354.3 661 346.7 667 346.7C672.43 346.7 677.87 347.7 683.3 348.2" fill="none" stroke="#93ae4e" stroke-width="1.1" stroke-linejoin="round" stroke-linecap="round" />
<path d="M495.3 360.7C503.53 360.54 511.77 360.41 520 360.22C527 360.05 534 359.83 541 359.65C543 359.6 545 361.39 547 359.5C548.33 358.24 549.67 355.88 551 353.27C552.6 350.14 554.2 344.58 555.8 341.57C557.07 339.19 558.33 337.26 559.6 336.09C560.9 334.9 562.2 334.6 563.5 334.6C565.67 334.6 567.83 335.04 570 336.6C571.83 337.92 573.67 340.58 575.5 342.5C578.33 345.47 581.17 349.07 584 351.1C588.87 354.59 593.73 354.2 598.6 354.2C602.4 354.2 606.2 350.08 610 348.43C613.17 347.06 616.33 344.9 619.5 344.9C623.33 344.9 627.17 352.16 631 354.56C638.67 359.35 646.33 359.1 654 359.1C659 359.1 664 357.5 669 357.5C673.77 357.5 678.53 357.9 683.3 358.1" fill="none" stroke="#4f8a3c" stroke-width="1.1" stroke-linejoin="round" stroke-linecap="round" />
<rect x="494.8" y="216.3" width="189" height="149.1" fill="none" stroke="#3a3a3a" stroke-width="1.15"/>
<line x1="494.52" y1="365.4" x2="494.52" y2="367.1" stroke="#3a3a3a" stroke-width="1" />
<line x1="512.5" y1="365.4" x2="512.5" y2="368.2" stroke="#3a3a3a" stroke-width="1" />
<line x1="530.48" y1="365.4" x2="530.48" y2="367.1" stroke="#3a3a3a" stroke-width="1" />
<line x1="548.45" y1="365.4" x2="548.45" y2="368.2" stroke="#3a3a3a" stroke-width="1" />
<line x1="566.42" y1="365.4" x2="566.42" y2="367.1" stroke="#3a3a3a" stroke-width="1" />
<line x1="584.4" y1="365.4" x2="584.4" y2="368.2" stroke="#3a3a3a" stroke-width="1" />
<line x1="602.38" y1="365.4" x2="602.38" y2="367.1" stroke="#3a3a3a" stroke-width="1" />
<line x1="620.35" y1="365.4" x2="620.35" y2="368.2" stroke="#3a3a3a" stroke-width="1" />
<line x1="638.33" y1="365.4" x2="638.33" y2="367.1" stroke="#3a3a3a" stroke-width="1" />
<line x1="656.3" y1="365.4" x2="656.3" y2="368.2" stroke="#3a3a3a" stroke-width="1" />
<line x1="674.27" y1="365.4" x2="674.27" y2="367.1" stroke="#3a3a3a" stroke-width="1" />
<text x="512.5" y="376.2" font-size="8" text-anchor="middle" fill="#1a1a1a" >1600</text>
<text x="548.45" y="376.2" font-size="8" text-anchor="middle" fill="#1a1a1a" >1500</text>
<text x="584.4" y="376.2" font-size="8" text-anchor="middle" fill="#1a1a1a" >1400</text>
<text x="620.35" y="376.2" font-size="8" text-anchor="middle" fill="#1a1a1a" >1300</text>
<text x="656.3" y="376.2" font-size="8" text-anchor="middle" fill="#1a1a1a" >1200</text>
<text x="548.6" y="385.8" font-size="9.4" fill="#1a1a1a">Wavenumber (cm<tspan font-size="6" dy="-3.6">-1</tspan><tspan dy="3.6">)</tspan></text>
<text x="0" y="0" font-size="9.3" text-anchor="middle" fill="#1a1a1a" transform="translate(489 290.8) rotate(-90)">Absorbance (arb. units)</text>
<text x="485.6" y="219.2" font-size="14" text-anchor="start" fill="#1a1a1a" >f</text>
<line x1="563" y1="236.4" x2="563" y2="341.8" stroke="#000" stroke-width="1.35" stroke-dasharray="5.6 2.5"/>
<line x1="619.6" y1="241.2" x2="619.6" y2="351.2" stroke="#000" stroke-width="1.35" stroke-dasharray="5.6 2.5"/>
<line x1="508.1" y1="253.3" x2="508.1" y2="349.3" stroke="#111" stroke-width="1.5" stroke-dasharray="8.4 2.3"/>
<polygon points="508.1,246.6 511.6,254 504.6,254" fill="#111"/>
<text x="504.9" y="243.5" font-size="10.5" text-anchor="start" fill="#1a1a1a" >0 V</text>
<text x="501.6" y="359" font-size="10" text-anchor="start" fill="#1a1a1a" >0.9 V</text>
<text x="627.8" y="224.9" font-size="10.2" fill="#1a1a1a">without SiO<tspan font-size="6.6" dy="2.4">2</tspan></text>
<text x="534" y="228.6" font-size="10" fill="#1a1a1a">O-O<tspan font-size="6" dy="3.2">stir</tspan><tspan font-size="6.4" dx="0.5">,</tspan></text>
<text x="572.5" y="236.2" font-size="10" fill="#1a1a1a">HOOH<tspan font-size="6.2" dy="2.6">ads</tspan></text>
<text x="615" y="238" font-size="10" fill="#1a1a1a">OOH<tspan font-size="6.2" dy="2.6">ads</tspan></text>
</svg>
</body></html>
